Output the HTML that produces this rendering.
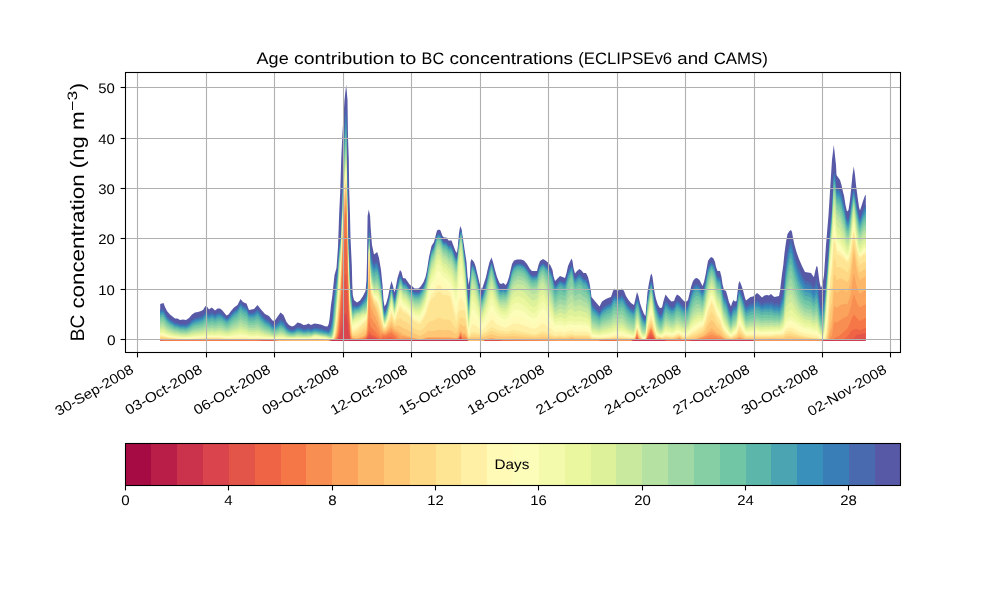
<!DOCTYPE html>
<html><head><meta charset="utf-8"><title>Age contribution to BC concentrations</title>
<style>html,body{margin:0;padding:0;background:#fff}body{width:1000px;height:600px;position:relative;overflow:hidden;font-family:"Liberation Sans",sans-serif}</style>
</head><body>
<svg width="1000" height="600" viewBox="0 0 1000 600" style="position:absolute;left:0;top:0;font-family:'Liberation Sans',sans-serif" text-rendering="geometricPrecision">
<rect width="1000" height="600" fill="#fff"/>
<g><path d="M160.2,339.4L160.2,303.9L163.5,303L165,307L167,311L170,314.5L175,318.5L177.5,318.5L180,320L183,319.5L186,320L189,318L192,314.5L195,312.5L198,312L201,311L203,310L205.5,306L207,306.5L209,309.5L211.5,307.5L213,308.5L215,310.5L217.5,308.5L220,308.5L222,310L226.5,315.5L228.5,314.5L231,311L234,307.5L237.5,305L240.5,299L243,302L245,303L246.5,303.5L249,310L254,309L257.5,305L261,309.5L265,314L269,316L272.5,320.5L274.5,321L280.5,312.5L283.5,315L286.5,322L289,325L292,326.5L294.5,325.5L297.5,322.5L300.5,323.2L303.5,325L306,324.8L308.5,323.5L311,325L314.5,323.5L318,324L321.5,324.8L325,326.2L327.5,326.5L328.7,324L329.7,318L331,305L332.3,296L334.5,275L336.5,268L338,247L339.2,213L340.2,192L341.2,160L342.2,138L344.5,100L346.2,84.5L347.5,100L348,138L348.8,160L349.2,190L350,215L350.5,238L351.8,265L352.3,285L352.8,295L354,300L357,302.5L360,300.5L363,296L365.5,291L366.5,280L367,260L367.6,216L368.8,209.5L370.1,216L370.7,228L372,245L374,254.5L377.2,252L379,258L381,270L382.5,285L383.5,300L384.5,306.5L386,304L388,297L390,287L391.5,281L393,286L394.3,292L395.5,289L397.5,278L400,270L401.5,272L403,278L405.5,278.5L410,285L412,286L414.5,288.5L418.5,288.5L421,286L423.5,282L425.5,277L427,270L429,257L431.5,246L434,242L437,230.5L439,229.5L440.5,230.5L442.5,236L444,237.5L446.5,237.5L448.5,240.5L451.5,240.5L455.5,251L457,253L458,245L459,233L460.2,226L461.5,229L466.5,262L467.5,276L468.7,285L470,276L470.5,262L471.5,259L474,262L475.5,266L479.5,283L481.9,289.5L486,277L487.5,270L489.5,262L491.5,257.5L493,262L495,270L497,277L499.5,283L501,284L503.5,283L505.5,285L507,283L509,277L512,264L514,260.5L517,259.5L521,259.5L524,260.5L527,264L530,269L532,271L537,271L538.5,265L540,261L543,259L545.5,260.5L548,262.5L550.5,265.5L552.5,270L553.5,276L555,281L560,276L565,278L566.5,273L568,266L571.5,258.5L572.5,261L573.5,268L575,273.5L577,271L579.5,269L581.5,270.5L583.5,273L586,273L588,277L589.5,283L590.5,289L591.5,297L599.5,306.5L602,301.5L605,299.5L608,298L611,297L613,291L614.5,288.5L616,290L617.5,290.5L619.5,290L622,288.5L624,291L626,296L628.5,300L631,303L634,305L637,292L638.5,296L640,303L642,309L644,314L645.5,316L647.5,292L649,283L650.5,275.5L651.5,273.5L652.5,277L654.5,292L656,299L658,305L660,308L662,307.5L663.5,301L665.5,294.5L669,299L671.5,301.5L674,301L675.5,297L677,294.5L679.5,296L682,299L684.5,301.5L686.5,301.5L688,300L691,287L693,281L695,278.5L697,278L699.5,280L702.5,286L704,282L705.5,275L708,261L710,258L711.5,257L713.5,258.5L713.8,259.2L715,262L716,267L717.5,271L720,271L721.5,277L722.5,284L724,290L726,291L727.5,296L729,302L731,306.5L732,303L733.5,300L735,301.5L736.5,301L738.5,284L739.5,281L740.5,283L742,287L743.5,292L745,298L746,300.5L750.5,297L753,296.5L755.5,294.5L757,293L759,294.5L762,297.5L764.5,295.5L767,295L769,295.5L771,294L773,296L774.5,297L779,296L780,291L782,274L783.3,265L784.5,253L786,242L787.5,234L789.5,231L791,230L792,232L793,238L794.5,245L796.5,252L799,259L802,266L805,272L811,273L813,276L814,277L815,272L816.5,266L817.5,267L819.5,282L821,288L822.5,284L824,275L826,245L828.5,215L832,160L833.8,145L836,165L836.5,175L840,180L841.5,185L843,192L844,195.5L845.5,205L847,211.5L848.5,210L850,200L852.5,175L853.8,166.5L855,175L856,185L858,200L859,207L860,210.5L863,201L865,195.5L865.8,195L865.8,339.4Z" fill="#5758a6"/>
<path d="M160.2,339.4L160.2,309.5L163.5,309.1L165,312.6L167,316.1L170,319.2L175,322.8L177.5,323L180,324.3L183,324.1L186,324.6L189,322.8L192,319.9L195,318L198,317.3L201,316.3L203,315.2L205.5,311.7L207,311.9L209,314.2L211.5,312.3L213,313L215,314.5L217.5,312.6L220,312.5L222,313.7L226.5,318.3L228.5,317.3L231,314L234,310.7L237.5,308.2L240.5,302.6L243,305.5L246.5,307L249,313L254,312.3L257.5,308.9L261,313.6L265,318.3L269,320.7L272.5,324.8L274.5,325.5L280.5,319.2L283.5,321.2L286.5,326.4L289,328.7L292,329.8L294.5,329.1L297.5,327L300.5,327.5L303.5,328.9L306,328.7L308.5,327.8L311,328.9L314.5,327.5L315.4,327.6L321.5,328.6L325,329.8L326.6,330L327.5,330.5L328.7,330.2L329.7,328.3L331,325L332.3,316.6L333,310L334.6,289.2L335.4,283.3L336.5,278.7L337,272L338,264.5L339.2,245L340.2,239.6L341,232L344.5,129.2L345,118L346.2,105L348.2,228.9L350.5,290L351.2,291.3L351.8,294.4L352.3,303.4L352.8,307.3L354,305L357,306L360,304.1L365.5,296.6L365.8,293.8L366.5,294.6L367,289.5L367.2,280.7L368.2,271.7L369,225L369.8,240.7L370.7,254L371.5,255.7L372,258L374,263.9L374.6,262.7L375.4,261.9L377.2,261.3L379,267.9L381,280L383.5,307.7L384.5,311L386,309L388,302L390,292L391.5,285.5L393,291.5L394.3,298L395.5,294.8L397.5,283.9L400,275L401.5,276.8L403,282.4L405.5,282.8L410,288.8L412,289.7L414.5,292L418.5,292.3L421,289.9L423.5,285.8L425.5,280.8L427,274L429,261.2L431.5,249.9L434,245.8L437,234.6L439,233.6L440.5,234.7L442.5,240.1L444,241.7L446.5,241.9L448.5,244.9L451.5,245.4L455.5,256.3L457,257.9L458,249.9L459,239.3L459.4,238L460.2,232L461,230.2L461.5,229.6L462.5,240L465,258L466.5,275L467.5,290.8L468.7,302L470,289.2L470.5,275.1L471.5,266.1L472.2,263.8L474,266L475.5,270L479.5,288.5L481.9,296.2L486,283.3L489.5,267.5L491.5,262L493,266.8L495,275L497,282L499.5,288.1L501,288.9L503.5,287.8L505.5,289.3L507,287.3L509,281.4L512,268.8L514,265.2L517,263.7L517.8,263.5L521,263.7L524,264.9L527,268.4L530,273.4L532,275.4L533.8,275.5L537,275.1L538.5,269.3L540,265.3L543,263L545.5,265L548,267.5L550.5,270.8L552.5,275.4L553.5,281.1L555,286L560,280.5L561.8,281.4L565,282.5L566.5,278L568,271.6L571.5,265L572.5,267.2L573.5,273.6L575,278.5L577,275.9L579.5,273.7L581.5,275.4L583.5,278.3L586,278.9L589.5,285.7L589.8,286.9L590.5,291.1L591.5,302.6L592.2,304.5L599.5,312.5L602,308L605,305.8L608,304L611,302.8L613,297.4L614.5,295L616,296.3L617.5,296.7L619.5,296.3L622,295L624,297.4L626,302L628.5,305.7L631,308.3L634,310L635.5,303.4L637,298L638.5,300.3L640,307.9L642,314.5L644,318.5L645.5,320L647.5,297.8L650.5,282.3L651.4,280.9L652.5,285.3L653.5,293.5L654.5,299.6L656,304.8L658,310.8L660,314.5L662,313.5L663.5,307.4L665.5,300.7L666.6,301.8L669,304.6L671.5,307L674,306.4L675.5,302.8L677,300.5L679.5,302L682,305L684.5,307L686.5,306.9L688,305.3L691,293.3L693,287.4L695,284.5L696.2,284L697,283.9L699.5,285.9L702.5,291.5L704,287.5L705.5,280.7L708,267L710,263.5L711.5,262L713.5,263.9L715,267.6L716,272.4L717.5,276.5L720,277L721.5,283.4L722.5,290.2L724,296.2L726,298L729,308.6L731,313L732,309.5L733.5,305.8L735,306L736.5,305.8L738.5,291.4L739.5,289L740.5,290.9L742,294.5L745,304.3L746,306.5L750.5,303.5L753,303L755.5,301.3L757,300.1L759,301.4L762,304L764.5,302.4L767,302.1L769,302.6L771,301.3L773,303L774.5,303.7L777.8,303L779,304.9L780,303.2L781,300L782,295.5L783.3,292L786,262L787.5,250.9L789.8,240.8L790.6,239.8L791,239.7L792,241.8L793,247.6L794.5,254.3L796.5,261L799,267.7L802,274.5L805,280.4L809.8,281.9L811,282.6L813,286L814,287.3L815,283.6L816.5,279.3L817,280L817.5,282.3L819.5,299.9L821,308L822.5,305.5L824,300L826,282L829.8,231L831.3,213.8L832,208L833.8,171.4L834.6,172.9L836,181.5L836.5,189.4L838,188L840,189.4L841.5,193.1L844,203.2L845.5,212.5L847,219L848.5,219L850,211.1L852.5,192.6L853.8,188L855,193.2L856,200.4L859,216L860,218L863,209.8L865,205.2L865.8,205L865.8,339.4Z" fill="#496aaf"/>
<path d="M160.2,339.4L160.2,310.8L163.5,310.5L165,313.8L167,317.2L170,320.2L175,323.7L177.5,323.9L180,325.2L183,325.1L186,325.5L189,323.9L192,321.1L195,319.3L198,318.7L201,317.6L203,316.6L205.5,313.2L207,313.5L209,315.6L211.5,313.7L213,314.4L215,315.8L217.5,314L220,313.8L222,314.9L226.5,319.2L228.5,318.2L231,315.1L234,311.8L237.5,309.4L240.5,304L243,306.8L246.5,308.4L249,314.1L254,313.6L257.5,310.5L261,315.1L265,319.6L269,322L272.5,325.9L274.5,326.6L280.5,320.9L283.5,322.7L286.5,327.5L289,329.6L292,330.7L294.5,330L297.5,328L300.5,328.6L303.5,329.8L306,329.7L308.5,328.9L311,329.8L314.5,328.5L315.4,328.6L321.5,329.6L325,330.6L326.6,330.8L327.5,331.4L328.7,331.2L331,327L332.3,319.4L333,313.4L334.6,292.8L335.4,286.5L336.5,281.2L337,274.3L338,266.7L339.2,247.2L340.2,241.6L341,233.7L344.5,134L345,122.9L346.2,110.7L348.2,232L350.5,292.3L351.2,293.5L351.8,296.5L352.3,305.1L352.8,308.6L354,306.1L357,306.9L360,305.1L365.5,298.1L365.8,295.5L366.5,296.3L367,291.6L367.2,283.3L367.4,282.7L368.2,274.6L369,227L369.8,243L370.7,256.4L371.5,258.4L372,260.9L374,266.2L374.6,265.1L375.4,264.2L377.2,263.7L379,270L381,281.7L383.5,309L384.5,312.3L386,310.1L388,303.1L391.5,286.5L393,292.8L394.3,299.4L395.5,296.2L397.5,285.3L400,276.1L401.5,277.9L403,283.3L405.5,283.7L410,289.7L412,290.7L414.5,293.1L418.5,293.3L421,290.9L423.5,286.7L425.5,281.7L427,274.9L429,262.1L431.5,250.8L434,246.7L437,235.4L439,234.5L440.5,235.6L442.5,241.1L444,242.7L446.5,242.9L448.5,246L451.5,246.6L455.5,257.4L456.2,258.3L457,258.9L458,251L459,240.5L459.4,239.1L460.2,233.1L461,231.3L461.5,230.7L462.5,241.1L465,259.4L466.5,276.7L467.5,292.5L468.7,303.7L470,290.8L470.5,276.7L471.5,267.4L472.2,264.8L474,267.1L475.5,271.1L479.5,289.8L481.9,297.6L486,284.5L489.5,268.6L491.5,262.9L493,267.7L495,275.9L497,283L499.5,289.1L501,289.9L503.5,288.9L505.5,290.3L507,288.3L509,282.4L512,269.9L514,266.1L517,264.5L517.8,264.3L521,264.5L524,265.8L527,269.4L530,274.3L532,276.3L533.8,276.5L537,276L538.5,270.2L540,266.3L543,263.9L545.5,266L548,268.6L550.5,272L552.5,276.7L553.5,282.3L555,287.1L560,281.5L565,283.8L566.5,279.3L568,273L571.5,266.4L572.5,268.6L573.5,274.9L575,279.8L577,277.3L579.5,275.1L581.5,276.9L583.5,279.7L586,280.4L589.5,287.2L589.8,288.4L590.5,292.6L591.5,304.2L592.2,306.1L599.5,313.8L602,309.4L605,307.3L608,305.4L611,304.3L613,299L614.5,296.7L616,298L617.5,298.4L619.5,298L622,296.7L624,299.1L626,303.5L628.5,307.1L631,309.7L634,311.4L635.5,304.8L637,299.4L638.5,301.8L640,309.4L642,316.1L644,319.7L645.5,321.1L647.5,299.4L650.5,283.6L651.4,282.1L652.5,286.8L653.5,294.9L654.5,301L656,306.4L658,312.4L660,316.1L662,315.1L663.5,309.2L665.5,302.5L665.8,302.6L669,306.2L671.5,308.5L674,307.9L675.5,304.4L677,302.1L679.5,303.6L682,306.6L684.5,308.5L686.5,308.3L688,306.7L691,295L693,289.2L695,286.3L696.2,285.7L697,285.6L699.5,287.6L702.5,293.1L704,289L705.5,282.3L708,268.6L710,264.9L711.5,263.1L713.5,265.3L715,269L716,273.9L717.5,277.9L720,278.7L721.5,285.2L722.5,291.9L724,298L726,300L729,310.4L731,314.7L732,311.3L733.5,307.7L735,307.7L736.5,307.3L738.5,293L739.5,290.4L740.5,292.5L742,296.3L745,306.1L746,308.4L750.5,305.5L753,305L755.5,303.5L757,302.3L759,303.5L762,306L764.5,304.6L767,304.3L769,304.8L771,303.7L773,305.2L774.5,306L777.8,305.3L779,307.1L780,305.6L781,302.6L782,298.6L783.3,295.7L786,266L787.5,255.2L789.8,245.1L790.6,244.2L791,244.1L792,246.2L793,251.8L794.5,258.3L796.5,265.1L799,272L800.2,274.7L802,278.6L805,284.1L809.8,285.7L811,286.4L813,289.9L814,291.2L815,287.8L816.5,284.2L817,284.9L817.5,287L819.5,303.4L821,310.9L822.5,308.5L824,303.4L826,284.3L828.5,252.6L829.8,233.6L831.3,216.1L832,210L833.8,173.7L834.6,175.2L836,183.9L836.5,191.8L838,190.6L840,192.2L841.5,196L843,202.4L844,205.8L845.5,214.8L847,221L848.5,221.1L850,213.5L852.5,194.9L853.8,190L855,195.4L856,202.6L859,218.1L860,220L863,212L865,207.5L865.8,207.3L865.8,339.4Z" fill="#3a7eb8"/>
<path d="M160.2,339.4L160.2,312.1L163.5,311.9L165,315.1L167,318.4L170,321.3L175,324.7L177.5,324.9L180,326.2L183,326.1L186,326.5L189,325L192,322.3L195,320.6L198,320L201,319L203,318L205.5,314.8L207,315L209,317L211.5,315.2L213,315.8L215,317.1L217.5,315.3L220,315.1L222,316.1L226.5,320.1L228.5,319.2L231,316.1L234,313L237.5,310.6L240.5,305.3L243,308.1L246.5,309.7L249,315.3L254,314.9L257.5,312.1L261,316.5L265,320.9L269,323.3L272.5,327L274.5,327.6L280.5,322.5L283.5,324.2L286.5,328.6L289,330.5L292,331.5L294.5,330.9L297.5,329.1L300.5,329.6L303.5,330.7L306,330.7L308.5,329.9L311,330.8L314.5,329.5L315.4,329.6L321.5,330.5L325,331.5L326.6,331.7L327.5,332.2L328.7,332.2L329.7,330.9L330.6,329.3L331,329L332.3,322.2L333,316.9L334.6,296.4L335.4,289.7L336.5,283.7L337,276.6L338,269L339.2,249.5L340.2,243.6L341,235.4L344.5,138.8L345,127.7L346.2,116.4L348.2,235.1L350.5,294.6L351.2,295.8L351.8,298.7L352.3,306.7L352.8,309.9L354,307.3L357,307.7L360,306.1L363,302.3L365.5,299.6L365.8,297.1L366.5,298.1L367,293.7L367.2,285.9L367.4,285.5L368.2,277.5L369,229L369.8,245.3L370.7,258.8L371.5,261.2L372,263.7L374,268.6L374.6,267.4L375.4,266.5L377.2,266L379,272.2L381,283.4L383.5,310.3L384.5,313.6L386,311.3L388,304.3L391.5,287.5L394.3,300.9L395.5,297.5L397.5,286.7L400,277.3L401.5,279L403,284.3L405.5,284.7L408,287.7L410,290.6L412,291.7L414.5,294.2L418.5,294.3L421,291.9L423.5,287.6L425.5,282.6L427,275.7L429,263L431.5,251.7L434,247.5L437,236.3L439,235.4L440.5,236.6L442.5,242L444,243.7L446.5,244L448.5,247.1L451.5,247.7L455.5,258.5L456.2,259.4L457,260L458,252.1L459,241.7L459.4,240.3L460.2,234.3L461,232.5L461.5,231.9L462.5,242.3L465,260.9L466.5,278.4L467.5,294.2L468.7,305.4L470,292.3L470.5,278.3L471.5,268.6L472.2,265.8L474,268.2L475.5,272.3L479.5,291.1L481.9,299L486,285.8L489.5,269.7L491.5,263.7L493,268.6L495,276.9L497,284L499.5,290.1L501,291L503.5,290L505.5,291.3L507,289.2L509,283.4L512,270.9L514,267.1L517,265.2L517.8,265L521,265.3L524,266.7L527,270.3L530,275.2L532,277.3L533.8,277.5L537,277L538.5,271.2L540,267.2L543,264.7L545.5,267L548,269.7L550.5,273.2L552.5,277.9L553.5,283.5L555,288.3L560,282.5L565,285.1L566.5,280.7L568,274.5L571.5,267.9L572.5,270.1L573.5,276.2L575,281.1L577,278.6L579.5,276.6L581.5,278.3L583.5,281.1L586,281.8L589.5,288.7L589.8,289.8L590.5,294L591.5,305.8L592.2,307.8L599.5,315.1L602,310.9L605,308.7L608,306.9L611,305.7L613,300.7L614.5,298.4L616,299.6L617.5,300L619.5,299.6L622,298.4L624,300.8L626,305.1L628.5,308.5L631,311.1L634,312.9L635.5,306.3L637,300.9L638.5,303.2L640,310.9L642,317.6L644,321L645.5,322.3L647.5,300.9L650.5,284.8L651.4,283.4L652.5,288.2L653.5,296.3L654.5,302.4L656,308L658,314L660,317.6L662,316.6L663.5,310.9L665.5,304.3L665.8,304.4L666.6,305.1L669,307.7L671.5,309.9L674,309.3L675.5,305.9L677,303.6L679.5,305.1L682,308.1L684.5,309.9L686.5,309.7L688,308.1L691,296.7L693,291L695,288.1L696.2,287.4L697,287.3L699.5,289.3L702.5,294.6L704.2,289.7L705.5,283.8L708,270.2L710,266.2L711.5,264.3L713.5,266.6L715,270.4L716,275.3L717.5,279.4L720,280.4L721.5,287L722.5,293.7L724,299.8L726,302L729,312.2L731,316.4L732,313.1L733.5,309.6L735,309.4L736.5,308.7L738.5,294.6L739.5,291.9L742,298L745,307.9L746,310.2L750.5,307.5L753,307L757,304.5L759,305.7L762,308L764.5,306.7L767,306.5L769,307L771,306L773,307.5L774.5,308.2L777.8,307.6L779,309.3L780,307.9L782,301.7L783.3,299.4L786,270L787.5,259.4L789.8,249.3L790.6,248.5L791,248.5L792,250.6L793,256L794.5,262.4L796.5,269.2L797.8,272.9L800.2,279L802,282.6L805,287.8L809.8,289.4L811,290.2L813,293.7L814,295L815,292.1L816.5,289L817,289.7L817.5,291.7L819.5,306.8L821,313.7L822.5,311.6L824,306.9L825.8,288.7L828.5,255.4L829.8,236.2L831.3,218.3L832,212L833.8,176L834.6,177.6L835.4,182.3L836,186.3L836.5,194.1L838,193.1L840,194.9L841.5,198.8L843,205L844,208.3L845.5,217L847,223L848.5,223.2L850,215.8L852.5,197.3L853.8,192L855,197.5L856,204.8L859,220.1L860,222L863,214.2L865,209.8L865.8,209.6L865.8,339.4Z" fill="#3990ba"/>
<path d="M160.2,339.4L160.2,313.4L163.5,313.3L165,316.4L167,319.5L170,322.4L175,325.6L177.5,325.9L180,327.1L183,327.1L186,327.5L189,326L192,323.6L195,322L198,321.3L201,320.3L203,319.4L205.5,316.3L207,316.5L209,318.3L211.5,316.6L213,317.1L215,318.4L217.5,316.6L220,316.4L222,317.3L226.5,321.1L228.5,320.1L231,317.2L234,314.1L237.5,311.7L240.5,306.6L243,309.4L246.5,311.1L249,316.5L254,316.3L257.5,313.7L261,318L265,322.2L269,324.5L272.5,328.1L274.5,328.7L280.5,324.2L283.5,325.7L286.5,329.7L289,331.4L292,332.3L294.5,331.8L297.5,330.2L300.5,330.7L303.5,331.7L306,331.6L308.5,331L311,331.7L314.6,330.5L321.5,331.5L325,332.4L326.6,332.5L327.5,333.1L328.7,333.1L330.6,331.1L331,331L332.3,325L333,320.3L334.6,299.9L335.4,292.9L336.5,286.1L337,278.9L338,271.2L339.2,251.8L340.2,245.6L341,237.1L344.5,143.5L345,132.6L346.2,122.1L348.2,238.3L350.5,296.9L351.2,298.1L351.8,300.9L352.3,308.3L352.8,311.2L354,308.4L357,308.6L360,307L363,303.4L365.5,301.1L365.8,298.7L366.5,299.8L367,295.8L367.2,288.5L367.4,288.3L368.2,280.4L369,231L369.8,247.6L370.7,261.2L371.5,263.9L372,266.6L374,271L374.6,269.7L375.4,268.8L377.2,268.4L379,274.3L381,285.1L383.5,311.6L384.5,314.9L386,312.4L388,305.4L391.5,288.5L394.3,302.3L395.5,298.9L397.5,288L400,278.4L401.5,280.1L403,285.3L405.5,285.6L408,288.6L410,291.6L412,292.8L414.5,295.3L418.5,295.3L421,292.8L423.5,288.6L425.5,283.4L427,276.6L429,263.9L431.5,252.6L434,248.3L437,237.2L439,236.3L440.5,237.5L442.5,243L444,244.6L446.5,245.1L448.5,248.2L451.5,248.9L455.5,259.7L456.2,260.6L457,261.1L458,253.2L459,242.8L459.4,241.4L460.2,235.4L461,233.6L461.5,233L462.6,244.3L465,262.3L466.5,280.2L467.5,295.9L468.7,307.1L470,293.8L470.5,280L471.5,269.9L472.2,266.8L474,269.4L475.5,273.4L477,279.9L479.5,292.4L481.9,300.4L486,287.1L489.5,270.8L491.5,264.6L493,269.6L495,277.8L497,285L499.5,291.1L501,292L503.5,291.1L505.5,292.3L507,290.2L509,284.4L512,271.9L514,268L517,266L517.8,265.7L521,266.1L524,267.5L527,271.2L530,276.1L532,278.2L533.8,278.5L537,277.9L538.5,272.1L540,268.1L543,265.6L545.5,268L548,270.8L550.5,274.4L552.5,279.1L553.5,284.7L555,289.4L560,283.5L565,286.4L566.5,282L568,275.9L571.5,269.3L572.5,271.5L573.5,277.6L575,282.4L577,280L579.5,278L581.5,279.8L583.5,282.5L586,283.3L589.5,290.1L589.8,291.3L590.5,295.5L591.5,307.4L592.2,309.5L599.5,316.4L602,312.3L605,310.1L608,308.3L611,307.1L613,302.3L614.5,300.1L616,301.3L617.5,301.7L619.5,301.3L622,300.1L624,302.4L626,306.6L628.5,309.9L631,312.5L634,314.3L635.5,307.7L637,302.3L638.5,304.7L640,312.4L642,319.2L644,322.3L645.5,323.4L647.5,302.4L650.5,286L651.4,284.6L652.5,289.6L653.5,297.8L654.5,303.9L656,309.5L658,315.6L660,319.2L662,318.2L665.5,306.1L665.8,306.1L666.6,306.8L669,309.3L671.5,311.3L674,310.7L675.5,307.4L677,305.2L679.5,306.7L682,309.7L684.5,311.4L686.5,311.1L688,309.5L691,298.4L693,292.8L695,289.8L696.2,289.1L697,289.1L699.5,291L702.5,296.2L704.2,291.2L705.8,283.9L708,271.7L710,267.5L711.5,265.4L713.5,267.9L715,271.8L716,276.7L717.5,280.9L720,282.1L721.5,288.8L722.5,295.5L724,301.5L726,304L729,314L731,318.1L732,315L733.5,311.5L735,311.1L736.5,310.2L738.5,296.2L739.5,293.3L742,299.8L745,309.8L746,312.1L750.5,309.4L753,309L757,306.7L759,307.8L762,310L764.5,308.8L767,308.7L769,309.3L771,308.3L773,309.7L774.5,310.4L777.8,309.9L779,311.5L780,310.2L782,304.8L783.3,303.1L786,274L787.5,263.7L789.8,253.6L790.6,252.9L791,252.9L792,255L793,260.2L794.5,266.4L796.5,273.3L799,280.4L800.2,283.2L802,286.7L805,291.6L809.8,293.1L810.6,293.7L811,294L813,297.5L814,298.9L815,296.4L816.5,293.8L817,294.6L817.5,296.4L819.5,310.2L821,316.6L822.5,314.6L824,310.3L825,300.2L828.5,258.2L829.8,238.8L832,214L833.8,178.3L834.6,179.9L835.4,184.6L836,188.7L836.5,196.5L838,195.7L840,197.7L841.5,201.7L843,207.7L844,210.8L845.5,219.2L847,225L848.5,225.3L850,218.2L852.5,199.6L853.8,194L855,199.6L856,207L858,217.4L859,222.2L860,224L863,216.4L865,212.1L865.8,211.9L865.8,339.4Z" fill="#4ba4b1"/>
<path d="M160.2,339.4L160.2,315L163.5,315L165,318L167,320.9L170,323.6L175,326.7L177.5,327L180,328.2L183,328.2L185,328.6L186,328.6L189,327.3L192,325L195,323.5L198,322.9L201,322L203,321.1L205.5,318.3L207,318.4L209,320.1L211.5,318.5L213,319L215,320.1L217.5,318.5L220,318.2L222,319L226.5,322.5L228.5,321.6L231,318.8L234,316L237.5,313.7L240.5,308.9L243,311.6L246.5,313.2L249,318.3L254,318.2L257.5,315.9L261,319.9L265,323.9L269,326L272.5,329.2L274.5,329.9L280.5,325.8L283.5,327.2L286.5,330.7L289,332.3L292,333.1L294.5,332.6L297.5,331.2L300.5,331.6L303.5,332.6L306,332.5L308.5,331.9L311,332.6L314.5,331.4L315.4,331.5L321.5,332.4L325,333.2L326.6,333.4L327.5,333.9L328.7,334L330.6,332.7L331,332.8L332.3,327.6L333,323.6L334.6,304.2L336.5,289.2L337,281.6L338,273.7L339.2,254.2L340.2,247.6L341,238.8L345,138L346.2,128L348.2,241.5L350.5,299.2L351.2,300.4L351.8,303L352.3,310L352.8,312.7L354,309.8L357,309.6L360,308.2L363,304.8L365.5,302.9L365.8,300.7L366.5,301.8L367,298L367.2,291.1L367.4,290.9L368.2,283.2L369,233.2L369.8,250.3L370.7,264L371.5,266.9L372,269.6L374,274L374.6,272.8L375.4,271.9L377.2,271.3L379,276.9L381,287.2L383.5,313L384.5,316.2L386,313.8L388,306.8L391.5,289.6L394.3,303.8L395.5,300.4L397.5,289.6L400,279.8L401.5,281.5L403,286.5L405.5,286.9L408,289.8L410,292.8L412,294.1L414.5,296.7L418.5,296.7L421,294.2L423.5,289.9L425.5,284.8L427,278L429,265.4L431.5,254L434,249.7L437,238.5L437.8,237.9L439,237.6L440.5,238.9L442.5,244.4L444,246.1L446.5,246.7L448.5,249.9L451.5,250.7L455.5,261.5L456.2,262.3L457,262.6L458,254.6L459,244.2L459.4,242.8L460.2,236.7L461,234.9L461.5,234.4L462.6,245.7L465,264L466.5,282.3L467.5,297.9L468.7,309.2L470,295.7L470.5,282.1L471.5,271.6L472.2,268.3L474,271L475.5,275.1L477,281.6L479.5,294.1L481.9,302.1L486,288.8L489.5,272.4L491.5,266L493,271.1L495,279.4L497,286.5L499.5,292.6L501,293.5L503.5,292.7L505.5,293.8L507,291.7L509,285.9L512,273.6L514,269.7L517,267.6L517.8,267.3L521,267.8L524,269.2L527,272.9L530,277.8L532,279.9L533.8,280.2L537,279.4L538.5,273.7L540,269.7L543,267L545.5,269.8L548,273L550.5,277L552.5,281.8L553.5,287.2L555,292L560,286L565,288.8L566.5,284.4L568,278.4L571.5,271.4L572.5,273.7L573.5,279.8L575,284.6L577,282.4L579.5,280.5L581.5,282.2L583.5,285L586,285.8L589.5,292.5L589.8,293.7L590.5,297.9L591.5,309.8L592.2,312L599.5,318.2L602,314.4L608,310.6L611,309.4L613,304.9L614.5,302.8L616,303.9L617.5,304.2L619.5,303.9L622,302.8L624,305L626,309L628.5,312.2L631,314.6L634,316.4L637,304.2L638.5,306.6L640,314.3L642,321.2L644,323.8L645.5,324.8L647.5,304.3L650.5,287.5L651.4,286.1L652.5,291.4L653.5,299.7L654.5,305.8L656,311.7L657.8,317.2L660,321.2L662,320.2L665.5,308.7L665.8,308.6L666.6,309.2L669,311.5L671.5,313.4L674,312.8L675.5,309.7L677,307.6L679.5,309L682,311.9L684.5,313.5L686.5,313.2L688,311.7L691,301.1L693,295.7L695,292.7L696.2,292L697,291.9L699.5,293.6L702.5,298.4L704,294.3L705,289.9L708,274L710,269.5L711.5,267.2L713.5,269.9L715,274L716,278.8L717.5,283.1L720,284.6L721.5,291.3L722.5,297.9L724,303.9L726,306.6L729,316.2L731,320.2L732,317.2L733.5,313.9L735,313.4L736.5,312.2L738.5,298.3L739.5,295.2L742,302L745,312.1L746,314.4L750.5,312L753,311.6L757,309.5L759,310.5L762,312.5L764.5,311.5L767,311.4L769,312L771,311.1L773,312.3L774.5,312.9L777.8,312.4L779,313.9L780,312.8L782,308L783.3,306.6L786,278.4L787.5,268.6L789.8,258.8L790.6,258.1L791,258.2L792,260.3L793,265.3L794.5,271.3L797,279.5L799.4,286.1L800.2,288L802,291.1L805,295.7L809.8,297.1L811,298.1L813,301.4L814,302.8L815,300.6L816.5,298.5L817,299.2L817.5,300.9L819.5,313.6L821,319.4L822.5,317.7L824,314L825,303.6L828.5,260.8L829.8,241.4L832,216.2L833.8,181L834.6,182.7L835.4,187.5L836,191.6L836.5,199.3L838,198.8L840,201L841.5,205.1L843,210.9L844,213.8L845.5,221.9L847,227.4L848.5,227.7L850,220.8L852.5,202.1L853.8,196L855,202L856,209.5L858,220L859,224.7L860,226.4L863,219.1L865,215L865.8,214.8L865.8,339.4Z" fill="#5cb7aa"/>
<path d="M160.2,339.4L160.2,317L163.5,317.1L165,319.8L167,322.6L170,325.1L175,328L177.5,328.3L180,329.3L183,329.4L186,329.8L189,328.6L192,326.6L195,325.3L198,324.8L203,323.2L205.5,320.7L207,320.8L209,322.3L211.5,320.9L213,321.3L215,322.3L217.5,320.9L220,320.6L222,321.3L226.5,324.3L228.5,323.5L231,321.1L234,318.5L237.5,316.5L240.5,312.2L243,314.6L246.5,316.2L249,320.7L254,320.7L257.5,318.7L261,322.3L265,325.8L269,327.6L272.5,330.5L274.5,331L280.5,327.4L283.5,328.6L286.5,331.8L289,333.1L292,333.8L294.5,333.4L297.5,332.2L300.5,332.5L303.5,333.3L306,333.3L308.5,332.8L311,333.3L314.6,332.2L321.5,333.2L325,334L326.6,334.2L327.5,334.6L328.7,334.9L330.6,334.2L331,334.4L332.3,330.1L333,326.8L334.6,309.1L336.5,292.8L337,284.8L338,276.5L339.2,256.6L340.2,249.6L341,240.4L344.5,154.2L345,144L346.2,134L348,237.9L349.2,272.4L350.5,301.6L351.2,302.7L351.8,305.2L352.3,311.7L352.8,314.2L354,311.4L357,310.8L360,309.5L363,306.4L365.5,305L365.8,302.9L366.5,303.9L367,300.3L367.2,293.7L367.4,293.4L368.2,285.9L369,235.6L369.8,253.2L370.7,267.1L371.5,270.1L372,272.8L374,277.6L375.4,275.8L377.2,274.8L379,279.8L381,289.6L383.5,314.5L384.5,317.6L386,315.4L388,308.4L391.5,290.8L394.3,305.4L395.5,302L397.5,291.3L400,281.4L401.5,283.1L403,288.1L405.5,288.5L408,291.4L410,294.4L412,295.7L414.5,298.3L418.5,298.4L420.2,297L421,296L423.5,291.7L425.5,286.7L427,280L429,267.6L431.5,256.1L434,251.5L437,240.2L437.8,239.6L439,239.3L440.5,240.7L442.5,246.3L444,248.1L446.5,248.9L448.5,252.1L451.5,253.2L455.5,263.8L456.2,264.6L457,264.6L458,256.4L459,245.8L459.4,244.4L460.2,238L461,236.3L461.5,236L463.4,254.1L465,266L466.5,284.7L467.5,300.2L468.7,311.6L470,298L470.5,284.7L471.5,273.8L472.2,270.3L474,273.2L475.5,277.4L477,283.8L479.5,296.1L481.9,304.1L486,290.9L489.5,274.6L491.5,268L493,273.2L495,281.5L497,288.7L499.5,294.8L501,295.6L503.5,294.7L505.5,295.7L507,293.6L509,288L512,276.1L514,272.2L517,270L517.8,269.7L518.6,269.7L521,270.2L524,271.8L527,275.4L530,280.2L532,282.2L533.8,282.6L537,281.6L538.5,275.9L540,271.9L543,269L548,276.3L550.5,280.8L552.5,285.9L553.5,291.2L555,296L560,290L565,292.4L566.5,288L568,281.8L571.5,274.2L572.5,276.7L573.5,282.8L575,287.8L577,285.8L579.5,284.1L581.5,285.8L583.5,288.4L586,289.2L589,294.8L589.8,296.9L590.5,301.1L591.5,312.9L592.2,315.1L599.5,320.6L602,317.2L608,313.8L611,312.6L613,308.4L614.5,306.4L616,307.4L617.5,307.7L619.5,307.4L622,306.4L624,308.6L626,312.3L628.5,315.4L631,317.6L634,319.2L637,306.6L638.5,309L640,316.7L642,323.6L644,325.7L645.5,326.4L647.5,306.4L650.5,289.3L650.6,288.9L651.4,288L652.5,293.7L653.5,302L654.5,308.4L656,314.5L657,317.6L658,320.3L660,323.6L662,322.6L665.5,311.9L665.8,311.9L666.6,312.4L669,314.5L671.5,316.2L674,315.5L675.5,312.7L677,310.8L679.5,312L682,314.7L684.5,316.2L686.5,316L688,314.5L691,304.8L693,299.7L695,296.8L696.2,296L697,295.8L699.5,297.1L702.5,301.2L704,297.1L705,292.7L708,277L710,272.2L711.5,269.6L713.5,272.6L715,276.8L716,281.6L717.5,285.9L720,287.8L721.5,294.6L722.5,300.9L724,306.8L726,309.8L729,318.8L731,322.6L732,319.9L733.5,316.8L735,316.2L736.5,314.6L738.5,301L739.5,297.6L742,304.8L745,314.8L746,317.2L750.5,315.1L753,314.8L757,312.9L759,313.7L762,315.5L764.5,314.6L767,314.6L769,315.1L771,314.3L773,315.3L774.5,315.8L777.8,315.2L779,316.6L780,315.7L781,313.8L782,311.3L783.3,309.8L786,283.2L787.5,274L789.8,264.7L790.6,264.2L791,264.3L792,266.4L793,271.2L794.5,276.9L797.8,287.1L800.2,293.1L802,296L805,300.1L809.8,301.5L811,302.4L814,306.7L815,304.8L816.5,303L817,303.6L817.5,305.3L819.5,316.8L821,322.2L822.5,320.9L824,318L825,307.5L828.5,263.2L829.8,243.8L832,218.6L833.8,184.2L834.6,186L835.4,190.9L836,195L836.5,202.6L838,202.4L840,204.9L841.5,209L843,214.7L844,217.4L845.5,225L847,230.2L848.5,230.5L850,223.8L852.5,204.7L853.8,198L855,204.5L856,212.4L859,227.5L860,229.2L863,222.3L865,218.5L865.8,218.4L865.8,339.4Z" fill="#71c6a5"/>
<path d="M160.2,339.4L160.2,319L163.5,319.2L165,321.7L167,324.2L170,326.5L175,329.2L177.5,329.5L180,330.5L183,330.6L186,331L189,330L192,328.2L195,327.1L198,326.6L203,325.3L205.5,323.1L207,323.2L209,324.5L211.5,323.3L213,323.6L215,324.5L217.5,323.2L220,323L222,323.6L226.5,326.2L228.5,325.5L234,321.1L237.5,319.2L240.5,315.5L243,317.7L246.5,319.1L249,323.1L254,323.2L257.5,321.6L261,324.7L265,327.6L269,329.3L272.5,331.7L274.5,332.2L280.5,329.1L283.5,330.1L286.5,332.8L289,334L292,334.6L294.5,334.2L297.5,333.2L300.5,333.4L303.5,334.1L306,334.1L308.5,333.7L311,334.1L314.5,333L315.4,333.1L326.6,335L328.7,335.7L329.8,335.6L330.6,335.7L331,336L332.3,332.6L333,330L333.2,328.3L336.5,296.4L337,288L338,279.3L339.2,258.9L340.2,251.6L341,242L344.5,159.7L345,150L346.2,140L348,241.3L349.2,275.6L350.5,304L351.2,305.1L351.8,307.4L352.3,313.5L352.8,315.7L354,313L360,310.9L363,308L365.5,307.1L365.8,305.2L366.5,306.1L367,302.5L367.2,296.2L367.4,295.9L368.2,288.6L369,238L369.8,256.1L370.7,270.3L372,276L374,281.2L375.4,279.7L377.2,278.3L379,282.8L381,292L383.5,315.9L384.5,319L386,317L388,310L391.5,292L394.3,307L395.5,303.6L397.5,293L400,283L401.5,284.7L403,289.6L405.5,290.1L408,293L410,296L412,297.3L414.5,299.9L418.5,300.1L420.2,298.8L421,297.8L423.5,293.5L425.5,288.5L427,282L429,269.7L431.5,258.1L434,253.4L437,241.9L437.8,241.2L439,241L440.5,242.5L442.5,248.2L444,250.1L446.5,251.1L448.5,254.4L451.5,255.7L455.5,266.2L456.2,266.9L457,266.5L459,247.5L459.4,246L460.2,239.3L461,237.8L461.5,237.6L463.4,255.9L465,268L467.5,302.6L468.7,314L470,300.4L470.5,287.3L471.5,276.1L472.2,272.3L474,275.4L475.5,279.6L477,286L479.5,298.2L481.9,306.1L486,293L489.5,276.7L491.5,270L497,290.8L499.5,296.9L501,297.6L503.5,296.7L505.5,297.6L507,295.5L509,290.1L512,278.5L514,274.7L517,272.5L517.8,272.1L518.6,272.1L521,272.7L524,274.3L527,277.8L530,282.6L532,284.6L533.8,285L537,283.7L538.5,278.2L540,274.1L543,271L548,279.6L550.5,284.7L552.5,290L553.5,295.2L555,300L560,294L561.8,294.9L565,296L566.5,291.5L568,285.3L571.5,277L572.5,279.8L573.5,285.8L575,291L577,289.2L579.5,287.7L581.5,289.3L583.5,291.8L586,292.6L588.2,296.4L589.5,299.1L589.8,300.2L590.5,304.3L591.5,316L592.2,318.3L599.5,323L602,320L605,318.4L611,315.7L613,311.9L614.5,310L616,310.9L617.5,311.2L619.5,310.9L622,310L624,312.2L626,315.6L628.5,318.5L631,320.5L634,322L637,309L638.5,311.4L640,319.1L642,326L644,327.5L645.5,328L647.5,308.5L650.5,291L650.6,290.6L651.4,289.8L652.5,295.9L653.5,304.4L654.5,310.9L656,317.3L658,322.8L660,326L662,325L665.5,315.2L665.8,315.1L666.6,315.5L669,317.4L671.5,319L672.2,318.9L674,318.3L675.5,315.8L677,314L679.5,315L682,317.5L684.5,318.9L685.8,319L686.5,318.8L688,317.4L691,308.4L693,303.6L695,300.8L696.2,299.9L697,299.7L699.5,300.5L702.5,304L704,299.9L705,295.6L708,280L710,274.9L711.5,272L713.5,275.3L715,279.6L716,284.4L717.5,288.8L720,291L721.5,297.8L722.5,303.9L724,309.8L726,313L729,321.4L731,325L732,322.6L733.5,319.7L735,319L736.5,317L738.5,303.7L739.5,300L742,307.6L745,317.6L746,320L750.5,318.3L753,318L757,316.3L759,317L762,318.5L764.5,317.8L767,317.8L769,318.3L771,317.5L773,318.3L774.5,318.7L777.8,318L779,319.3L780,318.6L781,317L782,314.6L783.3,313L786,288L787.5,279.4L789.8,270.7L790.6,270.3L791,270.5L792,272.6L793.8,280.1L796.5,288.9L799,295.7L800.2,298.3L802,300.9L805,304.6L809.8,305.9L810.6,306.5L814,310.6L815,309L816.5,307.4L817,308L817.5,309.6L819.5,320.1L821,325L822.5,324.2L824,322L824.2,320.1L828.5,265.5L829.8,246.2L832,221L833.8,187.3L834.6,189.3L835.4,194.2L836,198.4L836.5,205.9L838,206L840,208.7L841.5,213L843,218.4L844,220.9L845.5,228.2L847,233L848.5,233.3L850,226.9L852.5,207.4L853.8,200L855,207L856,215.2L857,221L859,230.4L860,232L863,225.5L865,222L865.8,222L865.8,339.4Z" fill="#86cfa5"/>
<path d="M160.2,339.4L160.2,321.6L163.5,321.8L165,323.9L167,326.2L170,328.2L175,330.5L177.5,330.8L180,331.7L186,332.1L189,331.2L192,329.7L195,328.7L198,328.3L203,327.2L205.5,325.3L207,325.4L209,326.5L211.5,325.5L213,325.8L215,326.5L217.5,325.4L220,325.2L222,325.8L226.5,328.1L228.5,327.5L234,323.6L237.5,322.1L240.5,318.9L243,320.8L246.5,322L249,325.5L254,325.6L257.5,324.2L261,326.9L265,329.4L269,330.8L272.5,332.9L274.5,333.3L280.5,330.6L283.5,331.5L286.5,333.8L289,334.8L292,335.3L294.5,335L297.5,334L300.5,334.3L303.5,334.9L306,334.8L308.5,334.4L311,334.8L314.5,333.6L315.4,333.6L326.6,335.5L328.7,336.3L329.8,336.2L330.6,336.4L331,336.7L332.3,334L333,331.9L333.2,330.4L336.2,302.9L337,291.3L338,282.1L339.2,261.2L340.2,253.8L341,244.2L344.5,164.7L345,155.6L346.2,145.6L348,243.7L349.2,277.8L350.5,305.5L351.2,306.9L351.8,309.3L352.3,315.1L352.8,317.1L354,314.5L357,312.7L360,311.9L363,309.5L365.5,309L365.8,307.3L366.5,308L367,304.3L367.2,298.1L367.4,297.5L368.2,290.4L369,239.9L369.8,258.7L370.7,272.8L372,278.2L374,283.8L377.2,281.4L379,285.6L381,294.2L383.5,317.2L384.5,320.1L386,318.1L388,311.1L391.5,293.5L394.3,308.5L395.5,305L397.5,294.6L400,284.5L401.5,286.3L403,291.2L405.5,291.8L408,294.9L410,297.9L412,299.4L414.5,302.1L415.4,302.2L418.5,302.3L420.2,301L421,300L423.5,295.7L425.5,290.7L427,284.2L429,272.2L431.5,260.8L434,256L437,244.5L437.8,243.8L439,243.6L440.5,245.2L442.5,250.9L444,252.8L446.5,253.9L448.5,257.3L451.5,258.8L455.5,269.2L456.2,269.7L457,268.9L459,249.3L459.4,247.9L460.2,240.8L461,239.5L461.5,239.5L463.5,259L465,270.6L467.5,305L468.7,316.2L470,303L470.5,290.5L471.5,279.4L472.2,275.7L474,278.7L475.5,282.8L477,289L479.5,300.7L481.9,308.3L486,295.6L489.5,279.9L491.5,273.3L497,293.3L499.5,299.1L501,300L502.6,299.7L503.5,299.3L505.5,300.1L507,298.1L509,293L512,282L514,278.4L517,276.2L517.8,275.8L518.6,275.8L521,276.3L524,277.7L527,281L530,285.4L532,287.3L533.8,287.6L537,286.4L538.5,281.1L540,277.3L543,274.3L548,283.7L550.5,289L552.5,294.5L553.5,299.4L555,304.1L560,298.8L561.8,299.7L565,300.8L566.5,297.1L568,292L571.5,285.5L572.5,287.4L573.5,292.3L575,296.2L577,294.6L579.5,293.3L581.5,294.7L583.5,296.8L586,297.4L588,300.4L589.5,303.4L589.8,304.4L590.5,308.2L591.5,319L592.2,321.2L599.5,325.2L602,322.6L608,320L611,318.9L613,315.6L614.5,314.1L616,314.8L617.5,315.1L619.5,314.8L622,314.1L624,316.1L626,319.2L628.5,321.8L631,323.6L634,325L637,311.6L638.5,314L640,321.5L642,328.2L644,329.5L645.5,329.9L647.5,310.9L650.5,293L650.6,292.6L651.4,291.8L652.5,298.2L653.5,306.6L654.5,313.2L656,319.8L657,322.8L658,325L660,327.9L662,327L665.5,318.2L665.8,318L666.6,318.4L669,320.1L671.5,321.6L672.2,321.5L674,320.9L675.5,318.6L677,317L679.5,318L682,320.3L684.5,321.5L685.8,321.6L686.5,321.4L688,320.1L691,312.1L693,307.8L695,305.2L697,304L699.5,304.3L702.5,307L704,302.9L705,298.7L708,283.4L710,278.1L711.5,275L713.5,278.5L715,282.8L716,287.5L717.5,291.9L720,294.3L721.5,300.9L722.5,306.8L724,312.4L726,315.6L729,323.4L731,326.7L732,324.5L733.5,321.9L735,321.2L736.5,319.1L738.5,306.3L739.5,302.6L745,319.9L746,322.2L750.5,320.6L753,320.4L757,318.9L759,319.6L762,320.9L764.5,320.2L767,320.2L769,320.6L771,320L774.5,320.9L777.8,320.3L779,321.4L780,320.7L781,319.2L782,317.1L783.3,315.6L786,292.4L787.5,285.4L789.8,278.7L790.6,278.3L791,278.4L792,280.2L793,284.1L796.5,294.3L799,300.4L800.2,302.7L802,305.1L805,308.4L809.8,309.7L810.6,310.1L814,313.9L815,312.5L816.5,311.2L817,311.7L817.5,313.1L819.5,322.5L821,326.9L822.5,326.4L824,325L824.2,323L828.5,267.7L829.8,248.4L832,223.2L833.8,190.6L834.6,192.8L835,195.1L836,202.3L836.5,209.8L838,210.4L840,213.2L843,222.5L844,224.7L845.5,231.5L847,236L848.5,236.2L850,229.7L851,223L852.5,209.8L853.8,201.9L857,224.3L859,233.4L860,235L863,228.9L865,225.6L865.8,225.7L865.8,339.4Z" fill="#9fd8a4"/>
<path d="M160.2,339.4L160.2,324.2L163.5,324.3L165,326.2L167,328.1L170,329.8L175,331.8L177.5,332.1L180,332.8L186,333.2L189,332.5L192,331.2L195,330.4L198,330.1L203,329.1L205.5,327.5L207,327.6L209,328.6L211.5,327.7L215,328.6L217.5,327.7L220,327.5L222,328L226.5,329.9L228.5,329.4L234,326.2L237.5,325L240.5,322.3L243,323.9L246.5,325L249,327.8L254,328L257.5,326.9L261,329.1L265,331.2L269,332.3L272.5,334L274.5,334.4L280.5,332.2L283.5,332.8L286.5,334.7L289,335.6L292,336L294.5,335.7L297.5,334.9L300.5,335.1L303.5,335.6L306,335.6L308.5,335.2L311,335.4L314.5,334.2L315.4,334.2L326.6,336.1L328.7,336.8L329.8,336.8L330.6,337.1L331,337.5L332.3,335.4L333,333.7L333.8,328.3L335.4,314.9L336.5,303.3L337,294.7L338,285L339.2,263.5L340.2,256.1L341,246.4L344.5,169.6L345,161.1L346.2,151.1L348,246.2L349.2,280L350.5,307L351.2,308.7L351.8,311.3L352.3,316.7L352.8,318.5L354,316L357,313.5L360,313L363,311L365.5,311L365.8,309.4L366.5,309.9L367,306L367.2,299.9L368.2,292.2L369,241.7L369.8,261.4L370.7,275.3L372,280.4L374,286.4L377.2,284.4L379,288.4L381,296.4L383.5,318.5L384.5,321.2L386,319.2L388,312.2L391.5,295L394.3,310L395.5,306.5L397.5,296.1L400,286L401.5,287.8L403,292.7L405.5,293.6L408,296.7L410,299.8L412,301.4L414.5,304.2L415.4,304.4L418.5,304.5L420.2,303.2L421,302.2L423.5,297.8L425.5,292.8L427,286.4L429,274.7L431.5,263.4L434,258.5L437,247.2L437.8,246.4L439,246.3L440.5,247.9L442.5,253.6L444,255.6L446.5,256.8L448.5,260.2L451.5,261.8L455.5,272.2L456.2,272.6L457,271.3L458.6,254.8L459,251.2L459.4,249.7L460.2,242.4L461,241.2L461.5,241.4L463.5,261.1L465,273.2L467.5,307.3L468.7,318.4L470,305.6L470.5,293.7L471.5,282.8L472.2,279L474,282L475.5,286L477,291.9L479.5,303.2L481.9,310.5L486,298.3L489.5,283.1L491.5,276.7L497,295.7L499.4,301.2L501,302.3L502.6,302.2L503.5,301.9L505.5,302.6L507,300.7L509,295.9L512,285.5L514,282L517,279.9L517.8,279.5L518.6,279.5L521,279.9L524,281.1L527,284.1L530,288.2L532,289.9L533.8,290.2L537,289.1L538.5,284.1L540,280.5L543,277.7L548,287.8L550.5,293.4L552.5,298.9L553.5,303.6L555,308.1L560,303.6L561.8,304.5L565,305.6L566.5,302.7L568,298.7L571.5,294L572.5,295.1L573.5,298.7L575,301.4L577,300L579.5,298.9L581.5,300L583.5,301.8L586,302.3L588,304.9L589.5,307.7L589.8,308.6L590.5,312.2L591.5,322.1L592.2,324.1L599.5,327.4L602,325.2L608,322.9L611,322.1L613,319.4L614.5,318.1L616,318.8L617.5,319L619.5,318.8L622,318.1L624,320L626,322.8L628.2,324.8L631,326.7L634,327.9L637,314.2L638.5,316.6L640,323.9L642,330.4L644,331.4L645.5,331.7L647.5,313.3L650.5,295L650.6,294.5L651.4,293.8L652.5,300.4L654.5,315.6L656,322.4L657,325.2L658,327.2L660,329.7L662,329.1L665.5,321.2L665.8,321L671.5,324.2L672.2,324.1L674,323.5L675.5,321.4L677,319.9L679.5,320.9L682,323.1L684.5,324.1L685.8,324.2L686.5,324L688,322.8L691,315.8L693,312L695,309.6L697,308.3L699.5,308.1L702.5,309.9L704,305.9L705,301.8L708,286.8L710,281.3L711.5,277.9L713.5,281.6L715,286L716,290.6L717.5,294.9L720,297.7L721.5,304L722.5,309.6L724,314.9L726,318.2L729,325.3L731,328.3L732,326.4L733.5,324.1L735,323.4L736.5,321.1L738.5,309L739.5,305.2L745,322.2L746,324.4L750.5,323L753,322.8L757,321.5L762,323.3L764.5,322.7L767,322.7L769,323L771,322.4L774.5,323.1L777.8,322.5L779,323.4L780,322.8L781,321.4L782,319.5L783.3,318.2L786,296.9L787.5,291.3L789.8,286.6L790.6,286.3L791,286.4L792,287.7L793,291L796.5,299.7L799,305.1L800.2,307.1L802,309.2L805,312.2L809.8,313.4L810.6,313.8L814,317.2L815,316L816.5,314.9L817,315.4L817.5,316.7L819.5,324.9L821,328.7L822.5,328.7L824,327.9L825,317.1L829.8,250.6L832,225.4L833.8,193.8L834.6,196.3L835,198.8L836,206.2L836.5,213.7L838,214.9L840,217.8L843,226.7L844,228.6L845.5,234.9L847,238.9L848.5,239L850,232.6L851,225.9L852.5,212.3L853.8,203.7L857,227.7L859,236.5L860,237.9L863,232.3L865,229.3L865.8,229.4L865.8,339.4Z" fill="#b5e1a2"/>
<path d="M160.2,339.4L160.2,326.6L163.5,326.8L165,328.3L167,329.9L170,331.4L175,333.1L177.5,333.3L180,334L186,334.3L189,333.7L192,332.6L195,332L198,331.7L203,330.9L205.5,329.6L207,329.7L209,330.5L211.5,329.8L215,330.5L217.5,329.8L220,329.7L222,330L226.5,331.6L228.5,331.2L234,328.7L237.5,327.7L240.5,325.5L243,326.8L246.5,327.7L249,330.1L254,330.2L257.5,329.4L261,331.1L265,332.8L269,333.7L272.5,335.1L274.5,335.4L280.5,333.6L283.5,334.1L286.5,335.6L289,336.3L292,336.6L294.5,336.4L297.5,335.8L303.5,336.3L308.5,336L310.6,336.1L314.5,334.7L315.4,334.7L326.6,336.6L328.7,337.3L329.8,337.4L331,338.1L332.3,336.5L333,335.2L333.2,334.2L334.6,325.3L335.4,318.7L336.5,306.5L337,297.8L338,287.9L339.2,266.3L340.2,258.6L341,248.7L344.5,173.9L345,166L346.2,156L348,248.5L349.2,282L350.5,308.4L351.2,310.5L351.8,313.2L352.3,318.2L352.8,319.9L354,317.4L357,314.6L360,314.2L363,312.4L365.5,312.7L365.8,311.3L366.5,311.5L367,307.7L367.2,301.7L368.2,293.8L369,243.3L369.8,263.8L370.7,277.6L372,282.6L374,288.8L375.4,288.4L377.2,287.3L379,291L381,298.6L383.4,319L384.5,322.2L386,320.3L388,313.4L391.5,296.7L394.3,311.4L395.5,308L397.5,297.9L400,287.8L401.5,289.7L403,294.5L405.5,295.6L408,298.7L410,301.9L412,303.6L414.5,306.5L415.4,306.7L418.5,306.7L420.2,305.5L421,304.5L423.5,300.1L425.5,295.1L427,288.8L429,277.4L431.5,266.4L434,261.5L437,250.4L437.8,249.6L439,249.6L440.5,251.2L442.5,256.8L444,258.8L446.5,260.1L448.5,263.5L451.5,265.4L455.5,275.9L456.2,276.3L457,274.5L458.6,257.6L459,254.1L459.4,252.5L460.2,245.2L461,244.1L461.5,244.3L463.5,264L465,276.2L467.5,309.9L468.7,320.8L470,308.5L470.5,297.4L471.5,286.8L472.2,283L474,285.9L475.5,289.8L477,295.3L479.5,305.9L481.9,312.8L486,301.2L489.5,286.8L491.5,280.6L497,298.4L499.5,303.7L501,304.8L502.6,305L503.5,304.7L505.5,305.3L507,303.6L509,299.1L512,289.5L514,286.3L517,284.2L517.8,283.9L518.6,283.9L521,284.3L524,285.4L527,288.3L530,292.1L532,293.7L533.8,294L537,292.8L538.5,288.1L540,284.6L543,281.8L548,292.2L550.5,297.9L552.5,303.3L553.5,307.7L555,312L560,308.3L565,310.3L566.5,308.1L568,305L571.5,302L572.5,302.4L573.5,304.9L575,306.6L577,305.4L579.5,304.5L581.5,305.4L583.5,306.9L586,307.2L588,309.4L589.5,312L590.5,316L591.5,325L592.2,326.9L599.5,329.6L602,327.7L608,325.8L611,325.1L613,322.9L614.5,321.9L616,322.4L617.5,322.6L619.5,322.4L622,321.9L624,323.6L626,325.9L628.2,327.7L631,329.3L634,330.5L637,316.7L638.5,319.1L640,326.1L642,332.4L644,333.1L645.5,333.4L647.5,315.6L650.5,297.1L650.6,296.7L651.4,296L652.5,302.8L654.5,317.8L656,324.8L657,327.5L657.8,328.8L660,331.4L662,330.9L665.5,324L665.8,323.8L671.5,326.6L672.2,326.5L674,325.9L675.5,324.1L677,322.7L679.5,323.6L682,325.6L684.5,326.5L685.8,326.5L686.5,326.4L688,325.3L691,319.2L693,315.8L695,313.7L697,312.3L699.5,311.6L702.5,312.8L704,308.8L705,304.9L708,290.3L710,284.6L711.5,281.1L713.5,284.9L715,289.3L716,293.8L717.5,298.1L720,301L721.5,307.1L722.5,312.3L724,317.4L726,320.7L729,327.1L731,329.9L733.5,326.1L735,325.5L736.5,323.1L738.5,311.6L739.5,307.9L745,324.3L746,326.5L750.5,325.3L753,325.1L757,324L762,325.6L764.5,325L767,325L769,325.2L771,324.7L774.5,325.2L777.8,324.6L779,325.4L780,324.8L781,323.6L782,321.9L783.3,320.7L786,301.8L787.5,297.6L789.8,294.6L791,294.3L792,295.3L793,297.9L796.5,305.1L799,309.6L800.2,311.4L805,315.9L809.8,317L810.6,317.4L814,320.4L815,319.4L816.5,318.6L817,319L817.5,320.1L819.5,327.2L821,330.5L822.5,330.8L824,330.5L825,319.7L829.8,253L832,228.3L833.8,198.1L834.6,200.8L835,203.3L836,210.9L836.5,218.3L838,220L840,222.8L842.6,230.3L844,232.9L845.5,238.6L847,242.2L848.5,242.1L850,235.8L851,229.2L852.5,215.3L853.8,206.3L857,231.4L859,239.8L860,241.2L863,235.9L865,233.2L865.8,233.4L865.8,339.4Z" fill="#c8e99e"/>
<path d="M160.2,339.4L160.2,328.6L163.5,328.8L165,330.1L167,331.5L170,332.8L174.6,334.1L177.5,334.4L180,335L185,335.3L186,335.3L189,334.8L192,333.9L195,333.4L203,332.5L205.5,331.5L207,331.5L209,332.2L211.5,331.6L215,332.2L217.5,331.6L220,331.5L222,331.8L226.5,333.1L228.5,332.8L234,330.8L237.5,329.9L240.5,328.2L243,329.3L246.5,330L249,331.9L254,332.1L257.5,331.4L265,334.1L269,334.9L272.5,336L274.5,336.2L280.5,334.8L283.5,335.2L286.5,336.4L289,336.9L292,337.2L294.5,337L297.5,336.5L303.5,337L308.5,336.7L309.8,336.8L311,336.6L314.5,335.1L315.4,335L326.6,337.1L329.8,337.9L331,338.6L332.2,337.2L333,335.9L333.8,332.1L334.6,327.6L335.4,321.3L336.5,309L337,300.5L338,291L339.2,270.2L340.2,261.7L341,251L344.5,177L345,169.3L346.2,159.3L348,250.5L349.2,283.4L350.5,309.7L351.8,314.9L352.3,319.6L352.8,321.2L354,318.7L357,316.6L360,315.9L363,313.7L365.5,313.9L365.8,312.6L366.5,312.7L367,308.9L367.2,303.1L368.2,295.2L369,244.3L369.8,265.8L370.7,279.6L372,284.6L374,290.7L377.2,289.9L379,293.5L381,300.6L383.4,320.1L383.5,320.8L384.5,323.1L386,321.3L387.4,316.8L388.2,313.9L391.5,299L394.3,312.7L395.5,309.5L397.5,299.9L400,290.5L401.5,292.3L403,297L405.5,298L408,301L410,304.2L412,305.9L414.5,308.8L415.4,309.1L418.5,309.3L420.2,308.2L421,307.1L423.5,302.6L425.5,297.6L427,291.5L429,280.7L431.5,270.3L434,265.7L437,255.1L437.8,254.3L439,254.3L440.5,255.9L442.5,261.2L444,263.2L446.5,264.6L448.5,267.8L449.8,268.5L451.5,270.3L455.5,281.5L456.2,281.8L457,279.6L458.6,262.6L460.2,250.8L461,249.8L461.5,250L463.5,268.6L465,280.2L467.5,312.9L468.7,323.5L470,312.2L470.5,302.1L471.5,292.2L472.2,288.7L474,291.2L475.5,294.7L477,299.6L479.5,309.3L481.9,315.5L486,304.9L489.5,291.7L491.5,285.9L497,301.6L499.5,306.4L501,307.8L502.6,308.2L503.5,308.1L505.5,308.7L507,307.2L509,303.2L512,294.6L514,291.9L517,290.2L517.8,289.9L518.6,290L521,290.6L524,292L527,294.9L530,298.6L532,300.2L533.8,300.6L537,298.9L538.5,294.5L540,291.1L543,287.8L550.5,302.6L552.5,307.5L553.5,311.5L555,315.3L560,312.6L561.8,313.1L565,314.6L566.5,313L568,310.6L571.5,308.7L572.5,308.8L573.5,310.8L575,311.9L577,311L579.5,310.2L581.5,310.9L583.5,312.1L586,312.3L588,314.1L589.8,317L590.5,319.8L591.5,327.6L592.2,329.2L599.5,331.4L602,329.9L608,328.2L611,327.7L613,325.8L614.5,324.9L616,325.3L617.5,325.5L622,324.9L624,326.3L626,328.2L628.5,329.9L631,331.1L634,332.2L635.5,326.4L637,319L638.5,321.4L640,327.9L642,333.7L644,334.3L645.5,334.5L647.5,317.8L648.2,313.5L650.5,299.8L650.6,299.3L651.4,298.7L652.5,305.3L654.5,319.8L656,326.8L657,329.4L658,330.8L660,332.7L662,332.2L665.5,326.3L665.8,326.1L671.5,328.6L672.2,328.5L674,327.9L675.5,326.3L677,325L679.5,325.8L682,327.6L684.5,328.4L686.5,328.2L688,327.3L691,321.9L693,318.9L695,317L697,315.6L699.5,314.7L702.5,315.5L704,311.6L705.5,305.9L708,294L710,288.3L711.5,284.8L713.5,288.6L715,292.9L716,297.2L717.5,301.3L720,304.3L721.5,310.1L722.5,315L724,319.8L726,323L729,328.8L731,331.2L733.5,327.8L735,327.2L736.5,324.9L738.5,314.4L739.5,310.9L744.2,324.1L746,328.2L750.5,327.1L753,326.9L757,326L762,327.4L764.5,326.9L767,326.8L769,327.1L771,326.6L774.5,327L777.8,326.4L779,327.1L780,326.6L781,325.6L782,324.1L783.3,323L786,307.8L787.5,304.6L789.5,302.7L791,302.2L792,302.8L793,304.8L796.5,310.4L799,314L800.2,315.4L805,319.3L809.8,320.3L811,320.9L814,323.4L815,322.6L816.5,321.9L817,322.3L817.5,323.3L819.5,329.3L821,332.2L822.5,332.4L824,332.2L825,321.7L829.8,255.7L832,232.6L833.8,204.6L834.6,207.5L835,210L836,217.5L836.5,224.7L840,229.3L842.6,236L843,236.8L844,238.1L845.5,243.1L847,246.2L848.5,246L850,239.7L851,233.2L852.5,219.6L853.8,210.6L857,236.1L859,244L860,245.2L863,240.3L865,237.8L865.8,238.1L865.8,339.4Z" fill="#ddf19a"/>
<path d="M160.2,339.4L160.2,330.6L163.5,330.8L165,331.9L167,333.1L170,334.1L173.8,335.1L180,336L185,336.3L189,335.9L195,334.8L203,334.1L205.5,333.3L207,333.4L209,333.8L211.5,333.4L215,333.8L217.5,333.4L220,333.3L222,333.6L226.5,334.6L228.5,334.4L234,332.8L237.5,332.2L240.5,331L243,331.8L246.5,332.4L249,333.8L254,333.9L257.5,333.5L265,335.5L269,336L272.5,336.8L274.5,337L280.5,335.9L283.5,336.3L286.5,337.2L289,337.6L292,337.8L297.5,337.3L303.5,337.6L309.8,337.5L311,337.2L314.6,335.4L315.4,335.3L329.8,338.3L331,339.1L332.2,337.8L333,336.5L334.6,329.8L335.4,323.9L336.2,315.1L337,303.1L338,294.1L339.2,274.2L340.2,264.9L341,253.4L342.6,217.1L344.5,180.1L345,172.7L346.2,162.7L348,252.6L349.2,284.9L350.5,311.1L351.8,316.7L352.3,321.1L352.8,322.4L354,320.1L357,318.6L360,317.5L363,315.1L365.5,315.2L365.8,313.9L366.5,314L367,310.2L367.2,304.5L368.2,296.5L369,245.3L369.8,267.8L370.7,281.6L372,286.6L374,292.7L377.2,292.4L379,296L381,302.6L383.4,321.3L383.5,321.8L384.5,323.9L386,322.3L387.4,318L391.5,301.4L394.3,314.1L395.5,311.1L397.5,302L400,293.1L401.5,295L403,299.4L405.5,300.4L408,303.4L410,306.4L412,308.2L414.5,311.1L415.4,311.4L418.5,311.8L420.2,310.9L421,309.7L423.5,305.2L425.5,300.2L427,294.1L429,284L431.5,274.2L434,269.8L437,259.7L437.8,258.9L439,259L440.5,260.6L442.5,265.7L444,267.6L446.5,269L448.5,272.2L449.8,272.9L451.5,275.1L455.5,287L456.2,287.3L457,284.6L459,264.2L459.4,262.5L460.2,256.4L461,255.4L461.5,255.6L463.5,273.1L465,284.2L467.5,316L468.7,326.1L470,315.8L470.5,306.8L471.5,297.6L472.2,294.3L474,296.5L475.5,299.6L477,304L479.5,312.6L481.9,318.2L486,308.5L489.5,296.5L491.5,291.3L493,294.6L495,300.1L497,304.8L499.5,309.1L501,310.7L502.6,311.5L503.5,311.5L505.5,312.1L507,310.8L509,307.3L512,299.8L514,297.4L517.8,295.9L521,297L524,298.6L527,301.5L530,305L532,306.7L533.8,307.3L534.6,306.9L537,305.1L538.5,300.9L540,297.5L543,293.8L550.5,307.3L552.5,311.7L553.5,315.2L555,318.7L560,317L561.8,317.2L565,319L566.5,317.8L568,316.2L570,315.6L572.5,315.2L573.5,316.6L575,317.3L577,316.5L579.5,315.9L581.5,316.4L583.5,317.3L586,317.4L588,318.7L589.8,321.2L590.5,323.6L591.5,330.1L592.2,331.5L599.5,333.2L602,332L611,330.2L613,328.7L614.5,327.9L617.5,328.4L622,327.9L624,329L626,330.5L628.5,331.9L631,332.9L634,333.8L635.5,328.7L637,321.4L638.5,323.7L640,329.7L642,335.1L644,335.5L645.5,335.7L648.2,315.5L650.5,302.4L650.6,301.9L651.4,301.4L652.5,307.8L654.5,321.8L656,328.8L657,331.2L658.6,333L660,334.1L662,333.6L665.5,328.6L665.8,328.4L671.5,330.6L672.2,330.5L674,329.9L677,327.4L679.5,328L682,329.6L684.5,330.2L685.8,330.2L686.5,330.1L688,329.2L691,324.6L693,322L695,320.2L697,318.9L699.5,317.8L702.5,318.1L704,314.4L705.5,309L708,297.6L711.5,288.4L713.5,292.3L715,296.5L716,300.5L717.5,304.6L720,307.7L721.5,313.2L722.5,317.7L724,322.2L729,330.4L731,332.6L733.5,329.5L735,328.8L736.5,326.7L738.5,317.2L739.5,313.9L744.2,326.1L746,329.8L750.5,328.9L753,328.7L757,328L762,329.2L764.5,328.8L767,328.7L769,328.9L771,328.4L774.5,328.8L777.8,328.3L779,328.9L780,328.5L781,327.6L782,326.3L783.3,325.4L786,313.8L787.5,311.5L791,310L792,310.3L793,311.8L799,318.3L802,320.7L805,322.7L809.8,323.6L811,324.2L814,326.4L815,325.8L816.5,325.3L817,325.7L817.5,326.5L819.5,331.5L821,333.8L822.5,334L824,333.8L825,323.8L826.6,302.9L829.8,258.3L831.3,242.5L832,237L833.8,211.1L834.6,214.1L835,216.7L836,224.1L836.5,231L838,233.3L840,235.7L841.8,240.2L843,242.4L844,243.3L845.5,247.6L847,250.2L848.5,249.8L850,243.6L851,237.2L852.5,223.8L853.8,215L857,240.7L859,248.1L860,249.2L863,244.7L864.2,243.4L865,242.5L865.8,242.7L865.8,339.4Z" fill="#eaf79e"/>
<path d="M160.2,339.4L160.2,332.3L163.5,332.5L167,334.4L173,335.9L180,336.8L185,337.2L189,336.9L195,336.1L203,335.5L205.5,334.9L207,334.9L209,335.2L211.5,334.9L215,335.2L217.5,334.9L220,334.9L226.5,335.9L228.5,335.7L234,334.6L237.5,334.2L240.5,333.3L243,333.9L246.5,334.3L249,335.4L254,335.5L257.5,335.2L265,336.6L269,337L272.5,337.6L274.5,337.7L280.5,336.9L283.5,337.2L286.5,337.8L292,338.2L297.5,337.9L303.5,338.1L309.8,338.1L311,337.7L314.6,335.9L315.4,335.9L329,338.5L329.8,338.7L331,339.4L331.4,339.1L333,337.2L334.6,331.7L335.4,326.2L336.5,314.1L337,305.9L338,297.2L339.2,278L340.2,268.1L341,256L342.6,219.7L344.5,183.1L345,175.8L346.2,165.9L348,254.6L349.2,286.6L350.5,312.6L351.8,318.6L352.3,322.7L352.8,323.9L354,321.8L357,320.7L360,319.3L363,316.6L365.5,316.5L365.8,315.2L366.5,315.2L367,311.4L367.2,305.9L368.2,297.8L369,246.2L369.8,269.7L370.7,283.5L372,288.3L374,294.4L377.2,294.8L379,298.5L381,304.8L383.4,322.4L383.5,322.9L384.5,324.7L386,323.3L387.4,319.2L391.5,303.7L394.3,315.4L395.5,312.6L397.5,304.2L400,295.9L401.5,297.7L403,301.8L405.5,302.9L408,305.7L410,308.7L412,310.5L414.5,313.3L415.4,313.7L418.5,314.2L420.2,313.5L423.5,307.8L425.5,302.9L427,297L429,287.6L431.5,278.5L434,274.4L437,265L437.8,264.3L439,264.3L440.5,265.8L442.5,270.6L444,272.4L446.5,273.7L448.5,276.6L449.8,277.3L450.6,278.5L451.5,280.1L455.5,292.9L456.2,293.3L457,290.4L459,270.8L460.2,263.8L461,262.9L461.5,263L463.5,278.7L465,288.7L467.5,319L468.7,328.6L470,319.6L470.5,311.8L471.5,303.6L472.2,300.6L474,302.5L475.5,305L477,308.8L479.5,316.2L481.9,321L486,312.5L489.5,301.9L491.5,297.2L493,300L495,304.6L497,308.6L499.5,312.4L501,314L502.6,314.9L503.5,315L505.5,315.6L507,314.6L509,311.6L512,305.3L514,303.4L517.8,302.2L521,303.5L524,305.2L527,308L530,311.2L532,312.8L533.8,313.5L534.6,313L537,311.1L538.5,307.2L540,304.1L543,300.3L550.5,312.2L552.5,316L553.5,319.1L555,322L560,321L561.8,321.1L565,322.9L566.5,322.2L568,321.1L571.5,321L572.5,320.7L573.5,321.6L575,322L577,321.4L579.5,320.9L583.5,321.9L586,321.9L588,322.9L589.8,325L590.5,326.9L591.5,332.3L592.2,333.4L599.5,334.8L602,333.9L611,332.4L613,331.1L614.5,330.5L617.5,330.9L622,330.5L628.5,333.6L631,334.4L634,335.2L635.5,330.7L637,323.3L638.5,325.8L640,331.2L642,336.2L645.5,336.7L648.2,317.5L650.6,304.8L651.4,304.3L652.5,310.4L654.5,323.6L655.4,327.9L656.2,331.2L657,332.8L658,333.8L660,335.1L662,334.7L665.5,330.6L665.8,330.5L671.5,332.3L672.2,332.3L674,331.7L677,329.4L679.5,329.8L682,331.4L684.5,331.9L685.8,331.9L686.5,331.7L688,331L691,327L693,324.8L695,323.2L697,321.9L699.5,320.6L702.5,320.6L704,317L705.5,311.9L708,301L711.5,291.8L713.5,295.7L715,299.8L716,303.7L717.5,307.6L720,310.8L722.5,320.2L724,324.4L729,331.9L731,333.8L733.5,331L735,330.3L736.5,328.3L738.5,319.8L739.5,316.8L744.2,327.9L746,331.3L750.5,330.6L753,330.4L757,329.8L762,330.9L764.5,330.5L769,330.6L771,330.2L774.5,330.4L777.8,329.9L779,330.5L780,330.1L781,329.4L782,328.3L783.3,327.6L786,319L787.5,317.5L789.8,317.1L791,316.6L792,316.7L793,317.7L799,322.3L805,325.9L809.8,326.7L811,327.2L814,329.1L815,328.7L816.5,328.4L817,328.7L817.5,329.4L819.5,333.4L821,335.3L822.5,335.4L824,335.3L825,326.2L826.6,306.7L829.8,262.2L831.3,247.2L832,242.1L833.8,217.5L834.6,220.5L835,222.9L836,230.1L836.5,236.8L838,239.2L840,241.2L841.8,245.3L843,247.1L844,247.7L845.5,251.5L847,253.6L848.5,253.1L850,247L851,240.7L852.5,227.6L853.8,219L857,244.4L859,251.4L860,252.4L863,248.3L864.2,247.1L865,246.3L865.8,246.6L865.8,339.4Z" fill="#f3faac"/>
<path d="M160.2,339.4L160.2,333.2L163.5,333.5L167,335.1L173,336.5L180,337.4L185,337.7L195,336.8L203,336.3L205.5,335.7L209,336L211.5,335.7L215,335.9L217.5,335.7L220,335.7L226.5,336.6L237.5,335.4L240.5,334.7L243,335.2L246.5,335.5L249,336.3L254,336.4L257.5,336.1L265,337.3L274.5,338.1L280.5,337.6L283.5,337.7L286.5,338.2L292,338.5L297.5,338.3L309.8,338.4L311,338.2L314.6,336.8L315.4,336.7L329,338.8L331,339.4L332.3,338.5L333,337.7L334.6,332.8L335.4,327.7L336.5,316.5L337,308.9L338,300.3L339.2,281.6L340.2,271.6L341,259.5L342.6,222.7L344.5,185.8L345,178.3L346.2,168.9L348,256.6L349.2,288.8L350.5,314.4L351.8,321.1L352.3,324.9L352.8,326L354,324.3L357,323L360,321.4L363,318.4L365.5,317.9L365.8,316.6L366.5,316.4L367,312.7L367.2,307.4L368.2,299.1L369,246.9L369.8,271.2L370.7,285L374,295.7L375.4,296L377.2,296.8L379,300.9L381,307.6L383.5,324L384.5,325.4L386,324.2L386.6,322.6L388,318.5L391.5,306L394.3,316.8L395.5,314.3L397.5,306.5L400,298.9L401.5,300.6L403,304.4L405.5,305.4L408,308L410,310.9L412,312.7L414.5,315.4L415.4,315.8L418.5,316.6L420.2,316.1L423.5,310.6L425.5,305.9L429,291.8L431.5,283.6L434,280.1L437,271.8L437.8,271.2L438.6,271.1L439,271.2L440.5,272.4L442.5,276.5L444,278L446.5,279L448.5,281.5L449.8,282L451.5,285.6L455.5,299.7L456.2,300.4L457,297.7L459,280.8L459.4,279.6L460.2,275.3L461,274.7L461.5,274.8L463.5,286.6L465,294.3L467.5,321.9L468.7,330.7L470,323.5L470.5,317.3L471.5,310.9L472.2,308.4L474,309.8L475.5,311.8L477,314.7L479.5,320.5L481.9,324.3L486,317.2L489.5,308.5L491.5,304.7L493,306.9L495,310.6L497,313.8L499.5,316.8L501,318.2L502.6,318.9L503.5,319L505.5,319.6L507,318.8L509,316.5L512,311.5L514,310.1L517.8,309.4L521,310.5L524,311.9L527,314.1L530,316.8L532,318L533.8,318.6L534.6,318.3L537,316.7L538.5,313.6L540,311L543,308L550.5,317.6L552.5,320.7L553.5,323.1L555,325.5L560,324.5L561.8,324.7L565,326.1L566.5,325.4L568,324.5L572.5,324.1L573.5,324.9L575,325.2L579.5,324.4L583.5,325.2L586,325.1L588,325.9L589.8,327.7L590.5,329.2L591.5,333.6L592.2,334.6L599.5,335.7L602,335L611,333.7L613,332.7L614.5,332.1L617.5,332.5L622,332.3L628.5,334.7L634,335.9L635.5,331.8L637,324.4L638.5,327.1L640,332.2L642,336.9L645.5,337.3L648.2,319.2L650.5,308.6L650.6,308.3L651.4,307.9L652.5,313.2L654.5,325L655.4,329.1L656.2,332.2L657,333.7L658,334.5L660,335.6L662,335.4L665.5,332L665.8,331.9L671.5,333.5L672.2,333.5L674,332.9L677,330.8L679.5,331L682,332.7L684.5,333.1L685.8,333.2L688,332.4L693,326.9L697,324.2L699.5,322.8L702.5,322.4L704,319L705.5,314.1L708,303.7L711.5,294.6L713.5,298.5L715,302.5L716,306.3L717.5,310.1L720,313.3L722.5,322.1L724,326L729,333L731,334.7L733.5,332.2L735,331.5L736.5,329.7L738.5,322L739.5,319.3L744.2,329.4L746,332.5L757,331.3L762,332.2L764.5,331.9L769,331.9L771,331.6L774.5,331.7L777.8,331.2L779,331.7L780,331.4L782,330L783.3,329.4L786,322.2L787.5,320.9L791,320.2L792,320.4L793,321.3L799,325.4L805,328.5L809.8,329.3L811,329.7L814,331.3L816.5,330.8L817.5,331.6L819.5,334.7L821,336.2L824,336.3L825,329.5L826.6,313.7L828.5,289.5L829.8,268.9L831.3,254.1L832,249.1L833.8,223.5L834.6,226L835,228.2L836,234.8L836.5,241.1L838,243.1L840,244.7L841.8,248.4L843,250L844,250.4L845.5,253.9L847,255.7L848.5,255.2L850,249.2L851,243L852.5,230.5L853.8,222.2L857,245.8L859,252.8L860,253.8L863,250.1L864.2,249L865,248.3L865.8,248.7L865.8,339.4Z" fill="#fbfdb8"/>
<path d="M160.2,339.4L160.2,334.2L163.5,334.5L167,335.9L173,337.1L180,337.9L185,338.3L203,337L205.5,336.6L209,336.7L211.5,336.5L215,336.6L220,336.5L226.5,337.3L237.5,336.6L240.5,336.1L246.5,336.7L249,337.2L254,337.3L257.5,337.1L265,337.9L274.5,338.5L280.5,338.2L292,338.8L297.5,338.6L309.8,338.7L315.4,337.6L329,339L331,339.4L333,338.3L334.6,333.8L335.4,329.2L336.5,318.8L337,312L338,303.5L339.2,285.1L340.2,275.1L341,263L342.6,225.7L344.5,188.4L345,180.9L346.2,172L348,258.6L349.2,290.9L350.5,316.3L352.3,327L352.8,328.1L354,326.9L357,325.3L360,323.4L363,320.3L365.5,319.2L365.8,318L366.5,317.7L367,314.1L367.2,308.9L368.2,300.3L369,247.6L369.8,272.6L370.7,286.5L374,296.9L375.4,297.5L377.2,298.7L379,303.4L381,310.4L383.4,324.6L383.5,325L384.5,326.1L386,325.1L388,319.7L391.5,308.3L394.3,318.2L395.5,315.9L397.5,308.8L400,302L401.5,303.5L403,307L405.5,307.9L408,310.3L410,313.1L412,314.9L414.5,317.5L418.5,319L419.4,318.9L420.2,318.6L423.5,313.4L425.5,309L429,296L431.5,288.8L434,285.8L437,278.6L437.8,278.2L439,278L440.5,279L442.5,282.5L444,283.7L446.5,284.3L448.5,286.4L449.8,286.7L451.5,291L455.5,306.5L456.2,307.4L457,305L459,290.9L459.4,290.1L460.2,286.8L461,286.5L461.5,286.5L465,299.8L467.5,324.9L468.7,332.8L470,327.5L470.5,322.9L471.5,318.1L472.2,316.3L474,317.2L475.5,318.5L477,320.6L479.5,324.8L481.9,327.5L486,322L489.5,315.1L491.5,312.1L493,313.7L497,319L499.5,321.3L501,322.4L505.5,323.7L507,323.1L509,321.4L512,317.7L514,316.8L517,316.6L517.8,316.6L521,317.4L524,318.6L527,320.3L530,322.3L532,323.3L533.8,323.7L537,322.2L540,318L543,315.7L550.5,323L552.5,325.4L553.5,327.2L555,329L560,328L561.8,328.3L565,329.2L566.5,328.7L568,327.9L572.5,327.4L573.5,328.1L575,328.5L579.5,327.9L583.5,328.5L586,328.4L588,329L589.8,330.4L590.5,331.6L591.5,335L592.2,335.7L599.5,336.6L602,336.1L611,335L614.5,333.7L617.5,334.1L622,334L628.5,335.8L634,336.6L635.5,332.9L637,325.4L638.5,328.5L640,333.3L642,337.6L645.5,337.8L648.2,321L650.5,312L650.6,311.7L651.4,311.4L652.5,315.9L654.5,326.5L656,332.5L657,334.5L657.8,335L660,336.1L662,336.1L665.5,333.3L665.8,333.3L671.5,334.6L672.2,334.6L674,334.1L677,332.2L679.5,332.2L682,333.9L685.8,334.4L688,333.7L693,329.1L696.2,327.2L698.6,325.5L699.5,324.9L702.5,324.3L704,321L705.5,316.3L708,306.4L711.5,297.4L713.5,301.3L715,305.2L716,308.9L717.5,312.6L720,315.9L722.5,324L724,327.7L728.2,333.2L729,334.1L731,335.6L733.5,333.3L735,332.7L736.5,331L738.5,324.3L739.5,321.9L744.2,330.9L746,333.7L750.5,333.2L753,333.2L757,332.7L762,333.4L764.5,333.2L769,333.3L771,333L774.5,333L777.8,332.5L779,332.9L780,332.7L782,331.6L783.3,331.3L786,325.5L787.5,324.4L791,323.9L792,324.1L797,327.3L802.6,330.1L805,331.1L810.6,332.1L814,333.4L816.5,333.2L817.5,333.7L819.5,336L821,337.1L824,337.4L825.8,328L826.6,320.6L828.5,297.2L829.8,275.7L831.3,261L832,256L833.8,229.6L834.6,231.5L835,233.5L836,239.6L836.5,245.5L838,247.1L840,248.3L841.8,251.5L843,252.8L844,253L845.5,256.2L847,257.8L848.5,257.3L850,251.4L851,245.3L852.5,233.3L853.8,225.5L857,247.2L859,254.1L860,255.2L863,251.8L864.2,250.9L865,250.3L865.8,250.8L865.8,339.4Z" fill="#fffab6"/>
<path d="M160.2,339.4L160.2,335.1L163.5,335.4L167,336.7L172.2,337.6L175,338L185,338.8L201,337.9L205.5,337.4L217.5,337.2L226.5,338L240.5,337.6L246.5,337.8L249,338.2L257.5,338L265,338.6L274.5,339L280.5,338.8L292,339.1L309.8,339.1L315.4,338.5L331,339.4L333,338.8L334.6,334.9L335.4,330.6L338,306.6L339.2,288.7L340.2,278.6L341,266.5L342.6,228.7L344.5,191.1L345,183.4L346.2,175L348,260.6L349.2,293.1L350.5,318.1L352.3,329.2L352.8,330.2L357,327.7L360,325.5L363,322.1L365.5,320.6L365.8,319.4L366.5,319L367,315.4L367.2,310.4L368.2,301.5L369,248.3L369.8,274.1L370.7,288L371.5,290L374,298.2L375.4,299L377.2,300.7L377.8,302.4L379,305.8L381,313.2L383.4,325.8L383.5,326.1L384.5,326.8L386,326.1L388,320.8L391.5,310.7L394.3,319.6L395.5,317.5L397.5,311.1L400,305L401.5,306.4L403,309.6L405.5,310.5L408,312.7L410,315.4L412,317.1L414.5,319.6L418.5,321.3L419.4,321.4L420.2,321.2L423.5,316.2L425.5,312L429,300.3L431.5,293.9L434,291.5L437,285.4L439,284.9L440.5,285.5L442.5,288.4L444,289.3L446.5,289.6L448.5,291.2L449.8,291.3L451.5,296.5L455.5,313.3L456.2,314.5L457,312.4L458.6,302.4L459,301L459.4,300.5L460.2,298.3L461.5,298.2L465,305.4L467.4,327.1L468.7,334.9L470,331.4L470.5,328.4L471.5,325.3L472.2,324.1L474,324.5L475.5,325.3L479.5,329.1L481.9,330.8L486,326.7L489.5,321.8L491.5,319.6L493,320.6L497,324.2L499.5,325.8L501,326.6L505.5,327.7L507,327.4L509,326.3L512,323.9L514,323.5L517.8,323.8L524,325.2L530,327.8L532,328.5L533.8,328.8L537,327.8L540,324.9L543,323.3L550.5,328.4L552.5,330L553.5,331.3L555,332.5L560,331.5L565,332.4L568,331.2L571.5,330.7L572.5,330.8L573.5,331.4L575,331.7L579.5,331.4L583.5,331.7L586,331.6L588,332L589.8,333.1L590.5,333.9L591.5,336.4L592.2,336.9L599.5,337.6L611,336.4L614.5,335.4L617.5,335.7L622,335.8L628.2,336.9L634,337.3L635.5,334.1L637,326.5L638.5,329.9L640,334.3L642,338.3L645.5,338.4L648.2,322.8L650.5,315.4L650.6,315.2L651.4,314.9L652.5,318.7L655.4,331.5L656.2,334.2L657,335.3L660,336.5L662,336.8L665.5,334.7L666.6,334.8L671.5,335.8L672.2,335.8L674,335.3L677,333.6L679.5,333.3L682,335.2L685.8,335.7L688,335.1L693,331.2L696.2,329.5L699.5,327.1L702.5,326.1L704,323L705.5,318.5L708,309L711.5,300.2L713.5,304.1L715,308L716,311.5L717.5,315L720,318.4L722.5,326L724,329.3L726,332L728.2,334.4L729,335.2L731,336.6L733.5,334.5L735,333.8L736.5,332.4L738.5,326.6L739.5,324.4L744.2,332.5L746,334.8L753,334.6L757,334.2L762,334.7L764.5,334.6L769,334.7L771,334.4L774.5,334.3L777.8,333.8L779,334.1L780,334L782,333.2L783.3,333.1L786,328.7L787.5,327.9L791,327.5L792,327.8L794.5,329.3L798.6,331.4L802.6,332.9L805,333.7L810.6,334.6L814,335.6L816.5,335.5L817.5,335.9L819.5,337.4L821,338.1L824,338.4L825,336.1L826,333L827,323.4L828.5,305L829.8,282.4L830.5,275L832,263L833.8,235.6L834.6,237L835,238.8L836,244.4L836.5,249.8L838,251L840,251.8L841.8,254.5L842.6,255.3L843,255.6L844,255.7L845.5,258.5L847,259.9L848.5,259.3L850,253.6L851,247.7L852.5,236.2L853.8,228.7L857,248.6L859,255.5L860,256.6L863,253.6L864.2,252.8L865,252.3L865.8,252.9L865.8,339.4Z" fill="#fff0a6"/>
<path d="M160.2,339.4L160.2,336L163.5,336.4L167,337.4L171.4,338.2L185,339.4L200.2,338.7L205.5,338.3L214.6,338L220,338.1L226.5,338.7L240.2,339L257.5,339L275.4,339.4L333,339.4L334.6,336L335.4,332.1L338,309.7L341,270L342.6,231.7L344.5,193.8L345,186L346.2,178L348,262.5L349.2,295.3L350.5,320L352.2,330.9L352.8,332.3L354,332L357,330L360,327.5L363,324L365.5,322L365.8,320.8L366.5,320.2L367,316.7L367.2,311.9L368.2,302.8L369,249L369.8,275.6L370.6,289L371.5,291.3L374,299.5L375.4,300.5L377.2,302.7L377.8,304.4L379,308.2L381,316L382.6,323.7L383.5,327.1L384.5,327.5L386,327L391.5,313L394.3,321L395.5,319.2L397.5,313.4L400,308L401.5,309.3L403,312.2L405.5,313L408,315L410,317.6L412,319.2L414.5,321.7L418.5,323.7L419.4,323.9L420.2,323.8L423.5,319L425.5,315.1L429,304.5L431.5,299L434,297.1L437,292.2L439,291.7L440.5,292.1L442.5,294.4L444,295L446.5,294.8L448.5,296.1L449.8,296L451.5,301.9L455.5,320.1L456.2,321.5L457,319.7L458.6,311.8L459,311.1L459.4,311L460.2,309.9L462.5,310L465,311L467.4,330.1L468.7,337L470,335.4L470.5,333.9L471.5,332.5L472.2,332L474,331.9L475.5,332L479.5,333.4L481.9,334L486,331.5L489.5,328.4L491.5,327L493,327.5L497,329.4L499.5,330.3L501,330.7L503.5,331.1L505.5,331.7L507,331.6L509,331.2L512,330.1L514,330.2L517.8,331L524,331.9L530,333.4L533.8,334L537,333.4L540,331.9L543,331L550.5,333.8L555,336L560,335L561.8,335.5L565,335.5L568,334.6L571.5,334L575,335L583.5,335L586,334.8L588,335L589.8,335.7L590.5,336.3L591.5,337.7L592.2,338L596.2,338.3L599.5,338.5L608,338L611,337.7L614.5,337L628.2,338L634,338L635.5,335.2L637,327.5L640,335.3L642,339L645.5,339L646.5,334.3L648.2,324.5L650.5,318.8L651.4,318.5L652.5,321.5L656,334.6L656.2,335.2L657,336.2L662,337.5L665.8,336L672.2,336.9L674,336.4L677,335L679.5,334.5L682,336.5L684.5,336.9L686.5,336.9L688,336.5L693,333.3L696.2,331.8L699.5,329.3L702.5,328L704,325L705,322.2L706.6,317.1L708,311.7L711.5,303L713.5,307L715,310.7L716,314L717.5,317.5L720,321L722.5,327.9L724,331L726,333.5L727.4,334.9L729,336.3L731,337.5L733.5,335.7L735,335L736.5,333.7L738.5,328.8L739.5,327L744.2,334L746,336L753,336L757,335.7L762,336L769,336L774.5,335.6L777.8,335L779,335.3L782,334.8L783.3,335L786,332L787.5,331.3L789.8,331L791,331.1L792,331.5L794.5,332.8L799,334.7L805,336.3L814,337.8L816.5,337.9L821,339L824,339.4L826,339.4L827,330.7L828.2,317.2L829.8,289.1L830.5,281.6L832,270L833.8,241.6L834.6,242.5L835,244.1L836,249.1L836.5,254.2L838,255L840,255.3L841.8,257.6L842.6,258.2L843,258.4L844,258.3L845.5,260.9L847,262L848.5,261.4L850,255.7L851,250L852.5,239L853.8,232L857,250L859,256.9L860,258L863.4,255.2L865,254.4L865.8,255L865.8,339.4Z" fill="#fee593"/>
<path d="M160.2,339.4L160.2,337.1L163.5,337.4L167,338.1L171.4,338.6L185,339.4L214.6,338.5L226.5,338.9L240.2,339.1L257.5,339.1L275.4,339.4L333,339.4L334.6,337.1L335.4,334L336.5,326.7L338,314L339.2,297.4L340.2,287.1L341,275L342.6,235.5L344.5,197.1L345,189.3L346.2,182L348,265.7L349.2,299.1L350.5,323.3L352.2,333L352.8,334.1L354,334L357,332.8L360,330.8L363,328L365.5,326L365.8,325L366.5,324L367,320.3L367.2,315.8L368.2,305.4L369,250L369.8,278.3L370.6,291.6L371.5,293.7L374,301.9L374.6,302.4L375.4,303.4L377.2,306.7L383.5,328.6L384.5,328.8L386,328.3L391.5,317L394.3,323.7L395.5,322.9L397.5,319.8L400,318L401.5,318.9L403,321L405.5,321.6L408,323L410,325.1L414.5,328.7L418.5,330.6L419.4,330.8L420.2,330.9L423.5,328.4L425.5,326.4L427,324L429,322L431.5,320.9L432.2,320.9L434,320.4L437,318.1L439,317.9L440.5,318.1L442.5,319.2L444,319.4L446.5,319.4L448.5,320L449.8,320L451.5,321.9L455.5,328.3L456.2,328.6L457,326.9L458.6,320.7L460.2,317.2L461.5,317.5L465,319L467.4,332.8L468.7,337.8L470,336.7L470.5,335.8L471.5,334.8L472.2,334.5L475.5,334.5L481.9,335.8L486,334L489.5,331.7L491.5,330.7L497,332.6L499.5,333.3L505.5,334.2L509,333.9L512,333.2L514,333.2L524,334.4L530,335.4L533.8,335.8L537,335.4L540,334.4L543,333.8L550.5,335.7L555,337.1L560,336.2L561.8,336.7L565,336.8L571.5,335.5L575,336.3L588,336.3L589.8,336.9L590.5,337.3L591.5,338.3L592.2,338.5L599.5,338.8L610.6,338.3L614.5,337.8L628.2,338.5L634,338.5L635.5,336.2L637,328.5L638.6,333.4L640,336.3L641.8,338.9L642,339.1L645.5,339.1L646.5,335.4L648.2,326.9L650.5,321.5L650.6,321.3L651.4,321.2L652.5,324L656,335.9L656.2,336.4L657,337.2L660,337.4L662,338.1L665.8,337.1L672.2,337.8L674,337.3L679.5,335.3L682,337.5L686.5,337.7L688,337.4L693,335.3L696.2,334.2L699.5,331.9L702.5,330.7L704,328.3L705,326.2L706.6,322.2L708,318.1L711.5,311.3L713.5,314.4L715,317.3L716,319.9L717.5,322.6L720,325.3L722.5,330.8L724,333.2L726.6,335.8L729,337.3L731,338.1L733.5,336.7L735,336.2L736.5,335.2L738.5,331.5L739.5,330.2L743.4,334.7L746,337.1L753,337.1L757,336.9L762,337.1L769,337L777.8,336.5L779,336.7L782,336.4L783.3,336.5L786,334.3L787.5,333.9L789.8,333.7L792,334L794.5,334.9L799,336.1L805,337.3L814,338.3L816.5,338.4L821,339.1L826,339.4L827.8,328.1L828.5,320.8L829.8,301.7L830.5,295.5L832,286L833.8,258.5L834.6,258.4L835,259.6L836,263.3L836.5,267.3L838,267.3L840,267L842.6,268.9L843,269L844,268.9L845.5,271.1L847,272L848.5,270.7L850,264.8L851,259L852.5,247L853.8,238.7L857,257.3L859,264.1L860,265.3L863.4,262.6L865,261.8L865.8,262.3L865.8,339.4Z" fill="#fed884"/>
<path d="M160.2,339.4L160.2,338.3L171.4,339L185,339.4L214.6,338.9L240.2,339.3L333,339.4L334.6,338.3L335.4,335.9L336.5,329.9L337.8,319.9L340.2,292.1L341,280L342.6,239.3L344.5,200.5L345,192.7L346.2,186L348,268.9L349.2,302.9L350.5,326.7L351.8,333.6L352.3,335.4L352.8,336L357,335.7L360,334.1L365.5,330L366.5,327.7L367,323.9L368.2,308L369,251L369.8,281L370.6,294.2L371.5,296.1L374,304.4L374.6,305L375.4,306.3L377.2,310.7L381,324L383.5,330.1L384.5,330.2L386,329.7L391.5,321L394.3,326.3L395.5,326.4L397.5,325.3L400,326L401.5,326.8L403,328.2L405.5,328.9L408,330L410,331.4L414.5,333.8L419.4,335.8L420.2,335.9L423.4,334.3L425.5,333L427,331.5L428.2,331.1L429,330.8L432.2,331L434,330.8L437,330L440.5,329.8L442.5,330.2L444,330.2L446.5,330L449.8,330L451.5,330.8L455.5,333.7L456.2,333.7L457,332.6L458,330.4L460.2,323.4L461,323.9L462.5,326L465,326L467.4,335.3L468.7,338.6L470,338.1L470.5,337.6L472.2,336.9L475.5,336.9L481.9,337.6L486,336.5L491.5,334.3L497,335.9L499.5,336.4L505.5,336.8L512,336.3L514,336.3L533.8,337.6L537,337.4L543,336.6L555,338.3L560,337.5L561.8,338L565,338.1L571.5,337L575,337.7L588,337.7L592.2,338.9L599.5,339.1L614.5,338.6L634,338.9L635.5,337.1L637,329.5L638.5,335.1L640,337.3L642,339.3L645.5,339.3L646.5,336.5L648.2,329.2L650.5,324.2L650.6,324L651.4,323.9L652.5,326.5L655.4,335.7L656.2,337.6L657,338.2L660,337.9L662,338.8L665.8,338.3L672.2,338.6L677,337.3L679.5,336.2L682,338.4L686.5,338.6L688,338.4L696.2,336.5L699.5,334.5L702.5,333.3L704,331.7L705,330.2L708,324.5L711.5,319.7L713.5,321.9L715,324L716,325.8L717.5,327.7L720,329.7L722.5,333.7L724,335.5L726,337.2L729,338.3L731,338.8L736.5,336.7L738.5,334.3L739.5,333.3L743.4,336.6L746,338.3L762,338.3L771,338L783.3,337.9L786,336.7L789.8,336.3L792,336.5L796.5,337.2L805,338.2L821,339.3L826,339.4L827.8,334L828.2,331.6L829.8,314.2L830.5,309.5L832,302L833.8,275.4L834.6,274.3L835,275L836,277.4L836.5,280.5L840,278.6L841.5,278.9L843,279.6L844,279.5L845.5,281.3L847,282L848.5,279.9L850,273.8L851,268L853.8,245.3L857,264.7L859,271.3L860,272.7L863,270.2L864.2,269.6L865,269.2L865.8,269.7L865.8,339.4Z" fill="#fdc776"/>
<path d="M160.2,339.4L160.2,339.4L334.6,339.4L335.4,337.8L336.5,333L337.8,324.2L340.2,297.2L341,285L342.6,243L344.5,203.9L345,196L346.2,190L348,272.1L349.2,306.7L350.5,330L351.8,336.1L352.2,337.3L352.8,337.8L357,338.5L361.8,336.6L363,336L365.5,334L366.5,331.4L367,327.5L368.2,310.6L369,252L369.8,283.7L370.6,296.8L372,300L374,306.8L374.6,307.5L375.4,309.2L377.2,314.7L381,328L382.5,329.9L383.5,331.5L384.5,331.5L386,331L388,329L390,326.5L391.5,325L394.3,329L395.5,329.5L397.5,329.8L400,332L401.5,332.8L403,333.9L410,336.7L420.2,339.3L424.2,338.2L427,337L429,336.9L434,337L449.8,337L455.5,337.9L456.2,337.9L458,336.5L458.6,335.7L460.2,330.1L461,330.4L462.5,333L465,333L467.4,337.7L468.7,339.4L481.8,339.4L486,338.9L491.5,338L496.2,339L499.4,339.4L555,339.4L560,338.7L561.8,339.3L565,339.4L571.5,338.5L575,339L588,339L590.5,339.4L634,339.4L635.5,338.1L637,330.5L638.5,337.1L640,338.3L642,339.4L645.5,339.4L646.6,337.3L648.2,331.6L650.6,326.7L651.4,326.5L652.5,329L655.4,337.2L656.2,338.9L657,339.2L660,338.3L662,339.4L672.2,339.4L677,338.5L679.5,337L682,339.4L689,339.3L696.2,338.9L699.5,337.2L702.5,336L704,335L705.8,333.4L708,330.8L711.5,328L713.5,329.3L717.5,332.8L720,334L722.5,336.7L724,337.8L726,339L726.6,339.1L731,339.4L736.5,338.2L739.5,336.5L743.4,338.5L746,339.4L762,339.4L769.8,339L777.8,339.4L783.3,339.4L786,339L792,339L800.2,339L809.8,339.4L827.8,339.4L828.2,338.8L829.8,326.8L830.5,323.4L832,318L833.8,292.2L834.6,290.3L836,291.6L836.5,293.6L838,292L840,290.2L841.5,289.9L843,290.2L844,290L845.5,291.4L847,292L848.5,289.2L850,282.8L851,277L853.8,252L857,272L859,278.5L860,280L863,277.7L864.2,277L865,276.6L865.8,277L865.8,339.4Z" fill="#fdb768"/>
<path d="M160.2,339.4L160.2,339.4L334.6,339.4L335.4,338.2L336.5,334.8L337.8,327.7L338.6,320.6L340.2,302.1L341,289.3L342.6,248.1L344.5,210L345,202.3L346.2,197.1L348,276L349.2,310.3L350.5,332.7L351.8,337.1L352.2,337.9L352.8,338.3L357,338.8L363,337L365.5,335.2L366.5,333.2L367,330.2L368.2,317.1L369,274L369.8,296.9L370.6,306.7L372,309.4L374,314.8L374.6,315.3L375.4,316.7L381,331.3L382.5,331.7L383.5,332.9L386,332.6L390,328.8L391.5,327.7L394.3,331.1L397.5,332.6L400,335.1L403,336.1L420.2,339.4L424.2,338.5L427,337.7L429,337.6L449.8,337.7L456.2,338.3L458,337.4L458.6,336.7L460.2,331.4L461,332L462.5,334.8L465,334.8L467.4,338.2L468.7,339.4L481.8,339.4L491.5,338.4L499.4,339.4L555,339.4L560,338.9L561.8,339.4L565,339.4L571.5,338.8L575,339.1L588,339.1L590.5,339.4L634,339.4L635.5,338.5L637,331.9L638.5,337.7L640,338.6L642,339.4L645.5,339.4L646.6,337.9L648.2,332.9L650.5,328.1L650.6,327.9L651.4,327.7L655.4,337.8L656.2,339L657,339.3L660,338.6L662,339.4L672.2,339.4L677,338.8L679.5,337.7L682,339.4L696.2,339L699.5,337.8L702.5,337L704,336.3L705.8,335.1L708,333.3L711.5,331.3L713.5,332.2L717.5,334.7L720,335.5L722.5,337.4L724,338.3L726,339.1L726.6,339.2L731,339.4L736.5,338.5L739.5,337.3L743.4,338.7L746,339.4L762,339.4L769.8,339.1L783.3,339.4L786,339.1L792,339.1L809.8,339.4L827.8,339.4L828.2,339.3L829.8,332.8L832,326.9L833.8,307.7L834.6,306.1L836,306.8L836.5,308.1L840,305.2L841.5,304.6L843,304.3L844,303.8L845.5,304.3L847,304.3L848.5,301.6L850,296.2L851,291.3L853.8,272.9L857,287.4L859,292.6L860,293.7L863,291.6L864.2,290.9L865,290.5L865.8,290.7L865.8,339.4Z" fill="#fba35c"/>
<path d="M160.2,339.4L160.2,339.4L334.6,339.4L335.4,338.7L337,335.4L338,330.1L339.4,316.8L340.2,307.1L341,293.6L342.6,253.1L344.5,216L345,208.6L346.2,204.3L348,279.9L349.2,313.8L350.5,335.4L351.8,338L352.2,338.5L352.8,338.7L357,339L363,337.9L365.5,336.5L366.5,335L367,332.8L368.2,323.6L369,296L369.8,310.2L370.6,316.5L371.5,317.9L374,322.7L374.6,323.1L375.4,324.2L378.6,330.4L381,334.5L382.5,333.6L383.5,334.2L386,334.1L388.2,332.3L390,331.1L391.5,330.4L394.3,333.3L397.5,335.4L400,338.3L408,337.9L420.2,339.4L427,338.4L429,338.3L449.8,338.4L456.2,338.7L458,338.2L458.6,337.7L459.4,335.9L460.2,332.8L461,333.7L462.5,336.7L465,336.7L467.4,338.7L468.7,339.4L481.8,339.4L491.5,338.8L499.4,339.4L555,339.4L560,339.1L561.8,339.4L565,339.4L571.5,339L575,339.2L588,339.2L590.5,339.4L634,339.4L635.5,338.8L637,333.4L638.5,338.4L642,339.4L645.5,339.4L646.6,338.5L648.2,334.2L650.6,329.1L651.4,328.9L655.4,338.4L656.2,339.2L657,339.3L660,338.9L662,339.4L672.2,339.4L677,339L679.5,338.4L682,339.4L696.2,339.2L704,337.5L708,335.7L711.5,334.5L717.5,336.6L720,337.1L724,338.7L726.6,339.3L731,339.4L736.5,338.9L739.5,338.2L746,339.4L769.8,339.2L783.3,339.4L792,339.2L829,339.4L829.8,338.9L830.5,338.1L832,335.7L833.8,323.2L834.6,321.9L836,322L836.5,322.6L838,321.7L840,320.1L841.8,319.2L844,317.6L845.5,317.2L847,316.6L848.5,314L850,309.5L853.8,293.7L857,302.9L859,306.6L860,307.4L863,305.5L865,304.4L865.8,304.4L865.8,339.4Z" fill="#f98e52"/>
<path d="M160.2,339.4L160.2,339.4L334.6,339.4L335.4,339.2L336.5,338.5L337,338.1L338,333.9L338.6,330.3L340.2,312.1L341,297.9L343.4,241L344.5,222.1L345,214.9L346.2,211.4L348,283.8L349.2,317.4L350.5,338.1L352.3,339.1L357,339.3L363,338.9L365.5,337.7L366.5,336.7L367,335.4L367.6,332.2L368.2,330.1L369,318L369.8,323.5L370.7,326.6L374,330.6L375.4,331.6L377.8,334.8L381,337.8L381.8,336.4L382.6,335.4L384.5,335.4L386,335.7L388,334.1L390,333.4L391.5,333.1L396.2,336.9L398.6,339.4L405.8,339.4L408,338.9L420.2,339.4L429,339L457,339.1L458.6,338.7L459.4,337.3L460.2,334.1L461,335.3L461.5,336.7L462.5,338.5L465,338.5L468.7,339.4L491.5,339.2L499.4,339.4L571.5,339.3L634,339.4L635.5,339.2L637,334.8L638.5,339.1L642,339.4L645.5,339.4L646.6,339.1L650.6,330.3L651.4,330.1L653.5,335.4L655.4,339L656.2,339.3L657,339.4L660,339.2L662,339.4L672.2,339.4L679.5,339.1L682,339.4L696.2,339.3L704,338.8L711.5,337.8L724,339.2L727.4,339.4L731.4,339.4L739.5,339L746,339.4L833,339.4L834.6,337.8L838,336.6L841.8,333.8L844,331.4L847,328.9L848.5,326.4L850,322.9L851,319.9L852.5,316.8L853.8,314.6L859,320.6L860,321.1L865,318.3L865.8,318.1L865.8,339.4Z" fill="#f57748"/>
<path d="M160.2,339.4L160.2,339.4L337,339.4L338,336.4L338.6,333.8L339.2,329.6L340.2,318.7L341,306.5L343.4,259L344.5,243.2L345,237.2L346.2,234.7L348.2,299.2L349.2,322.5L350.5,339.4L363,339.4L365.5,338.5L366.5,337.9L367,337.2L367.6,335.4L368.2,334.4L369,330.7L370.7,332.8L372,334.1L374,335.4L375.4,336.1L377.8,338.1L381,339.4L382.6,337.8L384.5,337.7L386,338.1L388,336.8L390,336.7L391.5,336.8L396.2,339.4L458,339.4L458.6,339.3L459.4,338.2L460.2,335.3L461,336.5L461.5,338L462.5,339.4L635.5,339.4L637,336.1L638.5,339.4L646.6,339.4L650.6,332.3L651.4,332.2L653.8,337.1L655.4,339.3L656,339.4L843.4,339.4L847,336.7L849,334.2L851,330.8L852.5,330L855,329.1L857,328.8L859,329.9L860,330.2L865.8,327.7L865.8,339.4Z" fill="#ee6445"/>
<path d="M160.2,339.4L160.2,339.4L337,339.4L338,337.6L338.6,336L339.2,333.5L340.2,326.9L341,319.5L343.4,289.5L344.5,279.4L345,275.5L346.2,274L348.2,314.5L349.2,329.2L350.5,339.4L363,339.4L365.5,338.9L366.5,338.5L367,338.1L367.6,337L368.2,336.4L369,334.2L372,336.2L375.4,337.4L377.8,338.6L381,339.4L458,339.4L458.6,339.3L459.4,338.7L460.2,336.3L461,337.4L461.5,338.5L462.5,339.4L635.5,339.4L637,337.4L638.5,339.4L646.6,339.4L650.6,335.1L651.4,335.1L653.8,338L655.4,339.3L656,339.4L848.5,339.4L851,338.5L853.8,338.5L857,334.5L860,334.5L865.8,333L865.8,339.4Z" fill="#e45549"/>
<path d="M160.2,339.4L160.2,339.4L337,339.4L338.6,338.3L339.2,337.4L340.2,335.1L341,332.5L342.6,324L344.5,315.6L345,313.8L346.2,313.3L347.5,322.8L348,328.3L349,334.6L349.8,337.8L350.5,339.4L363,339.4L365.5,339.2L367,339L368.2,338.4L369,337.7L372,338.3L381,339.4L458,339.4L459.4,339.2L460.2,337.4L461,338.2L461.5,339.1L462.5,339.4L635.5,339.4L637,338.8L638.5,339.4L646.6,339.4L650.6,338L651.4,338L653.8,338.9L656,339.4L858.6,339.4L860,338.8L865.8,338.3L865.8,339.4Z" fill="#d9444d"/></g>
<defs><linearGradient id="bl" gradientUnits="userSpaceOnUse" x1="160" y1="0" x2="866" y2="0"><stop offset="0.0000" stop-color="#d63e4f"/><stop offset="0.0042" stop-color="#f67c4a"/><stop offset="0.1388" stop-color="#f67c4a"/><stop offset="0.1445" stop-color="#eb6046"/><stop offset="0.1615" stop-color="#eb6046"/><stop offset="0.1671" stop-color="#fdb466"/><stop offset="0.2380" stop-color="#fdbe6e"/><stop offset="0.2436" stop-color="#c8324f"/><stop offset="0.4348" stop-color="#c8324f"/><stop offset="0.4377" stop-color="#fdbe6e"/><stop offset="0.4575" stop-color="#fdbe6e"/><stop offset="0.4603" stop-color="#e15048"/><stop offset="0.4802" stop-color="#e15048"/><stop offset="0.4858" stop-color="#f27046"/><stop offset="0.5382" stop-color="#f88c50"/><stop offset="0.5666" stop-color="#faa05a"/><stop offset="0.6204" stop-color="#faa05a"/><stop offset="0.6246" stop-color="#f06e46"/><stop offset="0.6459" stop-color="#f06e46"/><stop offset="0.6487" stop-color="#fa9655"/><stop offset="0.6671" stop-color="#fa9655"/><stop offset="0.6700" stop-color="#cd3250"/><stop offset="0.7139" stop-color="#cd3250"/><stop offset="0.7181" stop-color="#eb5f48"/><stop offset="0.7493" stop-color="#eb5f48"/><stop offset="0.7535" stop-color="#d23c50"/><stop offset="0.8385" stop-color="#d23c50"/><stop offset="0.8442" stop-color="#f5965a"/><stop offset="0.9363" stop-color="#f5965a"/><stop offset="0.9391" stop-color="#d23c50"/><stop offset="1.0000" stop-color="#d23c50"/></linearGradient></defs>
<rect x="160.2" y="340" width="705.6" height="1" fill="url(#bl)"/>
<g stroke="#b0b0b0" stroke-width="1.1" fill="none"><path d="M137.5,72.5V352.5"/><path d="M206.5,72.5V352.5"/><path d="M274.5,72.5V352.5"/><path d="M343.5,72.5V352.5"/><path d="M411.5,72.5V352.5"/><path d="M480.5,72.5V352.5"/><path d="M548.5,72.5V352.5"/><path d="M617.5,72.5V352.5"/><path d="M685.5,72.5V352.5"/><path d="M754.5,72.5V352.5"/><path d="M822.5,72.5V352.5"/><path d="M890.5,72.5V352.5"/><path d="M125.5,339.5H900.5"/><path d="M125.5,289.5H900.5"/><path d="M125.5,238.5H900.5"/><path d="M125.5,188.5H900.5"/><path d="M125.5,138.5H900.5"/><path d="M125.5,87.5H900.5"/></g>
<g stroke="#000" stroke-width="1.1" fill="none"><path d="M137.5,352.5v4.9"/><path d="M206.5,352.5v4.9"/><path d="M274.5,352.5v4.9"/><path d="M343.5,352.5v4.9"/><path d="M411.5,352.5v4.9"/><path d="M480.5,352.5v4.9"/><path d="M548.5,352.5v4.9"/><path d="M617.5,352.5v4.9"/><path d="M685.5,352.5v4.9"/><path d="M754.5,352.5v4.9"/><path d="M822.5,352.5v4.9"/><path d="M890.5,352.5v4.9"/><path d="M125.5,339.5h-4.9"/><path d="M125.5,289.5h-4.9"/><path d="M125.5,238.5h-4.9"/><path d="M125.5,188.5h-4.9"/><path d="M125.5,138.5h-4.9"/><path d="M125.5,87.5h-4.9"/></g>
<rect x="125.5" y="72.5" width="775" height="280" fill="none" stroke="#000" stroke-width="1.1"/>
<g shape-rendering="crispEdges"><rect x="125.50" y="443.5" width="26.13" height="42" fill="#a70b44"/><rect x="151.33" y="443.5" width="26.13" height="42" fill="#b81e48"/><rect x="177.17" y="443.5" width="26.13" height="42" fill="#cb334d"/><rect x="203.00" y="443.5" width="26.13" height="42" fill="#d9444d"/><rect x="228.83" y="443.5" width="26.13" height="42" fill="#e45549"/><rect x="254.67" y="443.5" width="26.13" height="42" fill="#ee6445"/><rect x="280.50" y="443.5" width="26.13" height="42" fill="#f57748"/><rect x="306.33" y="443.5" width="26.13" height="42" fill="#f98e52"/><rect x="332.17" y="443.5" width="26.13" height="42" fill="#fba35c"/><rect x="358.00" y="443.5" width="26.13" height="42" fill="#fdb768"/><rect x="383.83" y="443.5" width="26.13" height="42" fill="#fdc776"/><rect x="409.67" y="443.5" width="26.13" height="42" fill="#fed884"/><rect x="435.50" y="443.5" width="26.13" height="42" fill="#fee593"/><rect x="461.33" y="443.5" width="26.13" height="42" fill="#fff0a6"/><rect x="487.17" y="443.5" width="26.13" height="42" fill="#fffab6"/><rect x="513.00" y="443.5" width="26.13" height="42" fill="#fbfdb8"/><rect x="538.83" y="443.5" width="26.13" height="42" fill="#f3faac"/><rect x="564.67" y="443.5" width="26.13" height="42" fill="#eaf79e"/><rect x="590.50" y="443.5" width="26.13" height="42" fill="#ddf19a"/><rect x="616.33" y="443.5" width="26.13" height="42" fill="#c8e99e"/><rect x="642.17" y="443.5" width="26.13" height="42" fill="#b5e1a2"/><rect x="668.00" y="443.5" width="26.13" height="42" fill="#9fd8a4"/><rect x="693.83" y="443.5" width="26.13" height="42" fill="#86cfa5"/><rect x="719.67" y="443.5" width="26.13" height="42" fill="#71c6a5"/><rect x="745.50" y="443.5" width="26.13" height="42" fill="#5cb7aa"/><rect x="771.33" y="443.5" width="26.13" height="42" fill="#4ba4b1"/><rect x="797.17" y="443.5" width="26.13" height="42" fill="#3990ba"/><rect x="823.00" y="443.5" width="26.13" height="42" fill="#3a7eb8"/><rect x="848.83" y="443.5" width="26.13" height="42" fill="#496aaf"/><rect x="874.67" y="443.5" width="25.83" height="42" fill="#5758a6"/></g>
<rect x="125.5" y="443.5" width="775" height="42" fill="none" stroke="#000" stroke-width="1.1"/>
<g stroke="#000" stroke-width="1.1" fill="none"><path d="M125.5,485.5v4.9"/><path d="M228.5,485.5v4.9"/><path d="M332.5,485.5v4.9"/><path d="M435.5,485.5v4.9"/><path d="M538.5,485.5v4.9"/><path d="M642.5,485.5v4.9"/><path d="M745.5,485.5v4.9"/><path d="M848.5,485.5v4.9"/></g>
<filter id="ga" x="0" y="0" width="1000" height="600" filterUnits="userSpaceOnUse" color-interpolation-filters="sRGB"><feOffset dx="0" dy="0"/></filter>
<g filter="url(#ga)" fill="#000"><text x="115.6" y="344.8" text-anchor="end" textLength="8.6" lengthAdjust="spacingAndGlyphs" font-size="13.9">0</text><text x="114.8" y="294.8" text-anchor="end" textLength="16.6" lengthAdjust="spacingAndGlyphs" font-size="13.9">10</text><text x="114.8" y="243.8" text-anchor="end" textLength="16.6" lengthAdjust="spacingAndGlyphs" font-size="13.9">20</text><text x="114.8" y="193.8" text-anchor="end" textLength="16.6" lengthAdjust="spacingAndGlyphs" font-size="13.9">30</text><text x="114.8" y="143.8" text-anchor="end" textLength="16.6" lengthAdjust="spacingAndGlyphs" font-size="13.9">40</text><text x="114.8" y="92.8" text-anchor="end" textLength="16.6" lengthAdjust="spacingAndGlyphs" font-size="13.9">50</text><text transform="translate(134.6,372.3) rotate(-30)" text-anchor="end" textLength="87.8" lengthAdjust="spacingAndGlyphs" font-size="13.9">30-Sep-2008</text><text transform="translate(203.1,372.3) rotate(-30)" text-anchor="end" textLength="86.1" lengthAdjust="spacingAndGlyphs" font-size="13.9">03-Oct-2008</text><text transform="translate(271.5,372.3) rotate(-30)" text-anchor="end" textLength="86.1" lengthAdjust="spacingAndGlyphs" font-size="13.9">06-Oct-2008</text><text transform="translate(340,372.3) rotate(-30)" text-anchor="end" textLength="86.1" lengthAdjust="spacingAndGlyphs" font-size="13.9">09-Oct-2008</text><text transform="translate(408.4,372.3) rotate(-30)" text-anchor="end" textLength="86.1" lengthAdjust="spacingAndGlyphs" font-size="13.9">12-Oct-2008</text><text transform="translate(476.9,372.3) rotate(-30)" text-anchor="end" textLength="86.1" lengthAdjust="spacingAndGlyphs" font-size="13.9">15-Oct-2008</text><text transform="translate(545.4,372.3) rotate(-30)" text-anchor="end" textLength="86.1" lengthAdjust="spacingAndGlyphs" font-size="13.9">18-Oct-2008</text><text transform="translate(613.8,372.3) rotate(-30)" text-anchor="end" textLength="86.1" lengthAdjust="spacingAndGlyphs" font-size="13.9">21-Oct-2008</text><text transform="translate(682.3,372.3) rotate(-30)" text-anchor="end" textLength="86.1" lengthAdjust="spacingAndGlyphs" font-size="13.9">24-Oct-2008</text><text transform="translate(750.7,372.3) rotate(-30)" text-anchor="end" textLength="86.1" lengthAdjust="spacingAndGlyphs" font-size="13.9">27-Oct-2008</text><text transform="translate(819.2,372.3) rotate(-30)" text-anchor="end" textLength="86.1" lengthAdjust="spacingAndGlyphs" font-size="13.9">30-Oct-2008</text><text transform="translate(887.6,372.3) rotate(-30)" text-anchor="end" textLength="88.4" lengthAdjust="spacingAndGlyphs" font-size="13.9">02-Nov-2008</text><text x="256.6" y="63.8" textLength="32.1" lengthAdjust="spacingAndGlyphs" font-size="16.67">Age</text><text x="294" y="63.8" textLength="100.5" lengthAdjust="spacingAndGlyphs" font-size="16.67">contribution</text><text x="399.7" y="63.8" textLength="16.6" lengthAdjust="spacingAndGlyphs" font-size="16.67">to</text><text x="421.6" y="63.8" textLength="22.6" lengthAdjust="spacingAndGlyphs" font-size="16.67">BC</text><text x="449.5" y="63.8" textLength="123.6" lengthAdjust="spacingAndGlyphs" font-size="16.67">concentrations</text><text x="578.3" y="63.8" textLength="93.8" lengthAdjust="spacingAndGlyphs" font-size="16.67">(ECLIPSEv6</text><text x="677.3" y="63.8" textLength="31.1" lengthAdjust="spacingAndGlyphs" font-size="16.67">and</text><text x="713.7" y="63.8" textLength="54.2" lengthAdjust="spacingAndGlyphs" font-size="16.67">CAMS)</text><g transform="translate(84.2,341.3) rotate(-90)"><text x="0" y="0" textLength="26.5" lengthAdjust="spacingAndGlyphs" font-size="19.44">BC</text><text x="32.7" y="0" textLength="134.2" lengthAdjust="spacingAndGlyphs" font-size="19.44">concentration</text><text x="173.1" y="0" textLength="31.9" lengthAdjust="spacingAndGlyphs" font-size="19.44">(ng</text><text x="211.2" y="0" textLength="18.8" lengthAdjust="spacingAndGlyphs" font-size="19.44">m</text><text x="230.6" y="-7.2" textLength="19.8" lengthAdjust="spacingAndGlyphs" font-size="13.6">&#8722;3</text><text x="251" y="0" textLength="7.5" lengthAdjust="spacingAndGlyphs" font-size="19.44">)</text></g><text x="125.5" y="505" text-anchor="middle" textLength="8.4" lengthAdjust="spacingAndGlyphs" font-size="13.9">0</text><text x="228.5" y="505" text-anchor="middle" textLength="8.4" lengthAdjust="spacingAndGlyphs" font-size="13.9">4</text><text x="332.5" y="505" text-anchor="middle" textLength="8.4" lengthAdjust="spacingAndGlyphs" font-size="13.9">8</text><text x="435.5" y="505" text-anchor="middle" textLength="16.6" lengthAdjust="spacingAndGlyphs" font-size="13.9">12</text><text x="538.5" y="505" text-anchor="middle" textLength="16.6" lengthAdjust="spacingAndGlyphs" font-size="13.9">16</text><text x="642.5" y="505" text-anchor="middle" textLength="16.6" lengthAdjust="spacingAndGlyphs" font-size="13.9">20</text><text x="745.5" y="505" text-anchor="middle" textLength="16.6" lengthAdjust="spacingAndGlyphs" font-size="13.9">24</text><text x="848.5" y="505" text-anchor="middle" textLength="16.6" lengthAdjust="spacingAndGlyphs" font-size="13.9">28</text><text x="512" y="468.8" text-anchor="middle" textLength="34.8" lengthAdjust="spacingAndGlyphs" font-size="13.9">Days</text></g>
</svg>
</body></html>
